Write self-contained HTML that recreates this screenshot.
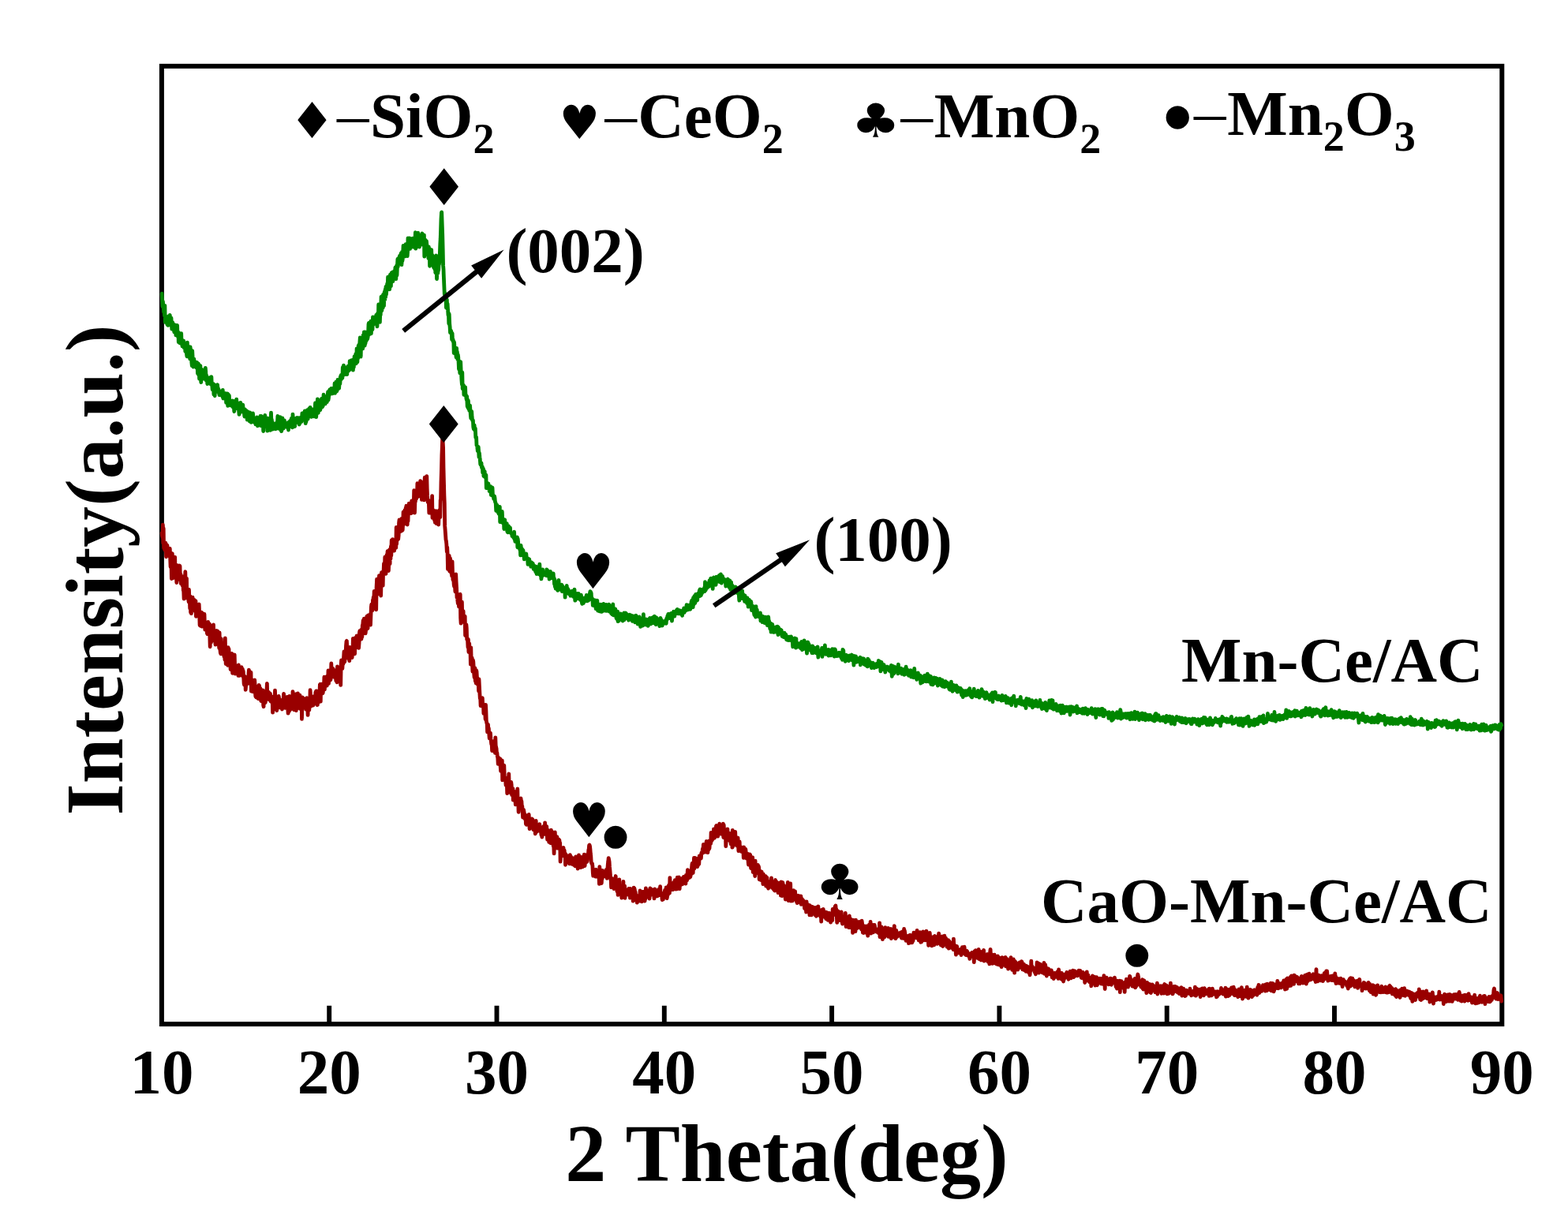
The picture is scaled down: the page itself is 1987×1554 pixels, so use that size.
<!DOCTYPE html>
<html lang="en">
<head>
<meta charset="utf-8">
<title>XRD patterns</title>
<style>
html,body{margin:0;padding:0;background:#fff;}
body{width:1987px;height:1554px;overflow:hidden;}
svg{display:block;}
text{font-family:"Liberation Serif",serif;font-weight:bold;fill:#000;}
text.sym{font-family:"DejaVu Sans","Liberation Serif",sans-serif;font-weight:normal;}
text.dash{font-weight:normal;}
</style>
</head>
<body>
<svg width="1987" height="1554" viewBox="0 0 1987 1554">
<rect width="1987" height="1554" fill="#fff"/>
<rect x="204.9" y="83.85" width="1698.40" height="1214.20" fill="none" stroke="#000" stroke-width="6.0"/>
<path d="M417.2,1298.05 V1274.8 M629.5,1298.05 V1274.8 M841.8,1298.05 V1274.8 M1054.1,1298.05 V1274.8 M1266.4,1298.05 V1274.8 M1478.7,1298.05 V1274.8 M1691.0,1298.05 V1274.8" stroke="#000" stroke-width="5.9" fill="none"/>
<g fill="none" stroke-linejoin="round" stroke-linecap="round" stroke-width="4.8">
<path stroke="#008600" d="M205.1,372.2 L205.5,379.5 L205.9,388.5 L206.4,382.1 L206.8,386.2 L207.2,387.4 L207.6,395.7 L208.1,394.0 L208.5,400.3 L208.9,387.3 L209.3,408.4 L209.8,400.5 L210.2,406.4 L210.6,403.1 L211.0,402.9 L211.5,408.7 L211.9,411.5 L212.3,406.3 L212.7,407.1 L213.2,412.4 L213.6,404.0 L214.0,400.7 L214.4,411.9 L214.9,406.2 L215.3,399.4 L215.7,406.0 L216.1,408.2 L216.6,404.4 L217.0,403.0 L217.4,411.9 L217.8,417.1 L218.3,411.0 L218.7,408.5 L219.1,415.2 L219.5,417.5 L220.0,412.3 L220.4,417.5 L220.8,420.9 L221.2,414.5 L221.7,411.8 L222.1,419.1 L222.5,419.3 L222.9,424.9 L223.3,412.3 L223.8,416.7 L224.2,416.6 L224.6,412.4 L225.0,423.8 L225.5,427.0 L225.9,420.8 L226.3,433.6 L226.7,431.4 L227.2,431.2 L227.6,430.8 L228.0,434.8 L228.4,422.8 L228.9,434.5 L229.3,435.2 L229.7,422.7 L230.1,435.1 L230.6,432.5 L231.0,438.8 L231.4,432.7 L231.8,435.6 L232.3,438.1 L232.7,432.0 L233.1,440.7 L233.5,437.3 L234.0,441.1 L234.4,436.1 L234.8,445.4 L235.2,443.3 L235.7,439.5 L236.1,444.5 L236.5,448.4 L236.9,451.8 L237.4,434.1 L237.8,448.0 L238.2,446.3 L238.6,443.9 L239.1,439.6 L239.5,452.4 L239.9,439.6 L240.3,450.1 L240.7,454.8 L241.2,440.0 L241.6,447.8 L242.0,443.3 L242.4,452.4 L242.9,460.1 L243.3,463.7 L243.7,444.6 L244.1,451.9 L244.6,459.5 L245.0,465.1 L245.4,460.0 L245.8,454.8 L246.3,461.2 L246.7,460.5 L247.1,460.4 L247.5,458.5 L248.0,465.1 L248.4,465.5 L248.8,464.2 L249.2,464.2 L249.7,459.5 L250.1,464.1 L250.5,473.3 L250.9,466.7 L251.4,460.9 L251.8,475.4 L252.2,471.8 L252.6,480.2 L253.1,470.3 L253.5,468.1 L253.9,463.6 L254.3,477.9 L254.8,484.5 L255.2,467.9 L255.6,469.1 L256.0,475.7 L256.5,469.0 L256.9,472.2 L257.3,472.2 L257.7,475.2 L258.1,480.1 L258.6,475.2 L259.0,480.1 L259.4,473.9 L259.8,478.0 L260.3,466.3 L260.7,470.2 L261.1,481.8 L261.5,475.5 L262.0,481.7 L262.4,482.1 L262.8,486.5 L263.2,484.5 L263.7,486.1 L264.1,481.2 L264.5,478.9 L264.9,479.3 L265.4,481.1 L265.8,478.6 L266.2,482.0 L266.6,484.8 L267.1,487.0 L267.5,484.7 L267.9,477.7 L268.3,487.1 L268.8,489.1 L269.2,493.7 L269.6,491.8 L270.0,486.4 L270.5,486.5 L270.9,500.0 L271.3,494.4 L271.7,499.9 L272.2,501.7 L272.6,488.2 L273.0,494.3 L273.4,495.0 L273.9,495.9 L274.3,496.2 L274.7,494.9 L275.1,495.2 L275.6,487.6 L276.0,494.3 L276.4,491.9 L276.8,496.4 L277.2,493.9 L277.7,499.4 L278.1,500.7 L278.5,498.6 L278.9,499.0 L279.4,498.4 L279.8,496.2 L280.2,497.9 L280.6,496.7 L281.1,501.2 L281.5,499.9 L281.9,502.9 L282.3,494.4 L282.8,505.0 L283.2,497.8 L283.6,498.3 L284.0,501.2 L284.5,499.9 L284.9,504.2 L285.3,500.6 L285.7,498.7 L286.2,500.1 L286.6,510.4 L287.0,505.0 L287.4,499.8 L287.9,505.6 L288.3,498.9 L288.7,514.4 L289.1,499.8 L289.6,509.2 L290.0,509.9 L290.4,501.3 L290.8,509.6 L291.3,513.1 L291.7,511.1 L292.1,510.6 L292.5,514.1 L293.0,511.0 L293.4,512.2 L293.8,510.5 L294.2,514.3 L294.6,507.8 L295.1,515.9 L295.5,510.5 L295.9,508.4 L296.3,515.2 L296.8,521.5 L297.2,518.6 L297.6,512.5 L298.0,518.2 L298.5,513.5 L298.9,515.3 L299.3,516.5 L299.7,506.2 L300.2,517.5 L300.6,512.4 L301.0,514.1 L301.4,510.9 L301.9,510.9 L302.3,513.6 L302.7,521.5 L303.1,525.4 L303.6,518.1 L304.0,523.2 L304.4,517.4 L304.8,510.3 L305.3,519.5 L305.7,520.9 L306.1,517.2 L306.5,520.5 L307.0,521.8 L307.4,515.7 L307.8,513.2 L308.2,518.8 L308.7,519.0 L309.1,518.6 L309.5,524.6 L309.9,528.0 L310.4,518.9 L310.8,524.0 L311.2,525.3 L311.6,524.7 L312.0,526.5 L312.5,520.7 L312.9,526.1 L313.3,532.1 L313.7,527.4 L314.2,521.9 L314.6,527.7 L315.0,531.1 L315.4,527.9 L315.9,524.5 L316.3,534.0 L316.7,522.8 L317.1,530.8 L317.6,529.1 L318.0,524.7 L318.4,535.3 L318.8,532.1 L319.3,526.2 L319.7,533.9 L320.1,529.9 L320.5,523.9 L321.0,529.2 L321.4,533.3 L321.8,535.0 L322.2,533.2 L322.7,532.8 L323.1,534.7 L323.5,532.0 L323.9,537.9 L324.4,533.7 L324.8,534.4 L325.2,535.5 L325.6,528.9 L326.1,530.5 L326.5,539.9 L326.9,535.0 L327.3,532.5 L327.8,535.2 L328.2,531.8 L328.6,535.0 L329.0,531.1 L329.4,535.1 L329.9,527.4 L330.3,539.5 L330.7,531.9 L331.1,527.4 L331.6,533.1 L332.0,532.5 L332.4,534.6 L332.8,529.2 L333.3,535.7 L333.7,546.5 L334.1,528.7 L334.5,535.4 L335.0,532.7 L335.4,534.8 L335.8,526.4 L336.2,529.2 L336.7,535.9 L337.1,533.8 L337.5,540.8 L337.9,531.1 L338.4,534.7 L338.8,546.2 L339.2,530.8 L339.6,530.2 L340.1,533.9 L340.5,533.8 L340.9,537.5 L341.3,534.6 L341.8,530.9 L342.2,535.1 L342.6,545.4 L343.0,539.8 L343.5,523.1 L343.9,534.4 L344.3,531.6 L344.7,538.2 L345.2,535.1 L345.6,544.2 L346.0,540.4 L346.4,540.5 L346.8,537.9 L347.3,537.3 L347.7,539.1 L348.1,543.4 L348.5,540.5 L349.0,537.0 L349.4,543.9 L349.8,539.6 L350.2,538.6 L350.7,535.7 L351.1,536.7 L351.5,536.4 L351.9,527.4 L352.4,543.2 L352.8,541.3 L353.2,538.1 L353.6,543.3 L354.1,540.8 L354.5,540.5 L354.9,528.7 L355.3,538.0 L355.8,541.2 L356.2,545.7 L356.6,546.6 L357.0,544.9 L357.5,534.2 L357.9,529.9 L358.3,541.4 L358.7,539.1 L359.2,543.0 L359.6,538.5 L360.0,539.9 L360.4,532.8 L360.9,540.9 L361.3,537.1 L361.7,540.4 L362.1,540.8 L362.6,538.3 L363.0,540.0 L363.4,538.5 L363.8,541.6 L364.2,540.4 L364.7,535.8 L365.1,535.5 L365.5,545.0 L365.9,537.1 L366.4,541.4 L366.8,538.7 L367.2,534.5 L367.6,533.5 L368.1,536.9 L368.5,537.3 L368.9,538.5 L369.3,530.5 L369.8,533.1 L370.2,535.0 L370.6,541.8 L371.0,525.1 L371.5,536.6 L371.9,532.4 L372.3,536.3 L372.7,532.3 L373.2,535.7 L373.6,540.5 L374.0,535.3 L374.4,535.5 L374.9,535.1 L375.3,530.2 L375.7,535.5 L376.1,532.2 L376.6,529.5 L377.0,532.6 L377.4,531.6 L377.8,535.5 L378.3,532.0 L378.7,529.8 L379.1,538.0 L379.5,535.8 L380.0,536.8 L380.4,533.8 L380.8,530.6 L381.2,529.1 L381.7,529.5 L382.1,534.4 L382.5,530.7 L382.9,523.8 L383.3,529.6 L383.8,523.6 L384.2,530.0 L384.6,524.0 L385.0,523.5 L385.5,529.0 L385.9,527.9 L386.3,521.0 L386.7,530.9 L387.2,536.6 L387.6,520.9 L388.0,534.7 L388.4,523.7 L388.9,524.3 L389.3,525.3 L389.7,519.7 L390.1,531.1 L390.6,527.4 L391.0,521.8 L391.4,523.5 L391.8,518.0 L392.3,522.7 L392.7,527.9 L393.1,516.3 L393.5,521.5 L394.0,523.7 L394.4,527.3 L394.8,528.3 L395.2,520.3 L395.7,518.7 L396.1,523.6 L396.5,519.8 L396.9,519.7 L397.4,525.4 L397.8,527.8 L398.2,521.3 L398.6,519.0 L399.1,522.0 L399.5,511.0 L399.9,518.8 L400.3,513.9 L400.7,528.6 L401.2,521.0 L401.6,518.1 L402.0,516.3 L402.4,505.8 L402.9,519.6 L403.3,523.3 L403.7,512.5 L404.1,518.4 L404.6,518.2 L405.0,507.8 L405.4,518.3 L405.8,519.8 L406.3,514.4 L406.7,512.7 L407.1,516.1 L407.5,505.3 L408.0,512.2 L408.4,516.0 L408.8,505.4 L409.2,514.9 L409.7,508.1 L410.1,500.2 L410.5,508.6 L410.9,504.3 L411.4,509.6 L411.8,502.4 L412.2,511.9 L412.6,503.3 L413.1,507.7 L413.5,502.8 L413.9,503.4 L414.3,509.7 L414.8,504.6 L415.2,501.1 L415.6,496.6 L416.0,507.0 L416.5,504.4 L416.9,498.8 L417.3,500.8 L417.7,494.3 L418.1,493.7 L418.6,493.9 L419.0,498.8 L419.4,497.9 L419.8,492.5 L420.3,498.9 L420.7,498.6 L421.1,495.2 L421.5,498.8 L422.0,492.2 L422.4,492.6 L422.8,495.0 L423.2,492.3 L423.7,495.9 L424.1,485.9 L424.5,498.3 L424.9,487.5 L425.4,490.2 L425.8,484.1 L426.2,493.2 L426.6,496.1 L427.1,494.8 L427.5,493.3 L427.9,481.5 L428.3,484.8 L428.8,485.8 L429.2,483.1 L429.6,492.4 L430.0,487.2 L430.5,485.2 L430.9,486.5 L431.3,478.1 L431.7,476.9 L432.2,475.4 L432.6,480.6 L433.0,478.3 L433.4,478.0 L433.9,479.1 L434.3,465.7 L434.7,468.6 L435.1,471.3 L435.5,463.2 L436.0,467.0 L436.4,474.5 L436.8,474.7 L437.2,474.4 L437.7,469.0 L438.1,467.5 L438.5,473.9 L438.9,466.4 L439.4,469.9 L439.8,474.7 L440.2,465.9 L440.6,464.5 L441.1,467.3 L441.5,470.2 L441.9,469.3 L442.3,467.3 L442.8,469.0 L443.2,457.6 L443.6,460.9 L444.0,465.7 L444.5,459.6 L444.9,457.0 L445.3,457.2 L445.7,458.1 L446.2,461.3 L446.6,456.3 L447.0,462.2 L447.4,469.1 L447.9,458.9 L448.3,465.6 L448.7,459.8 L449.1,451.8 L449.6,455.6 L450.0,451.1 L450.4,459.5 L450.8,448.7 L451.3,460.9 L451.7,456.3 L452.1,441.8 L452.5,455.8 L452.9,459.0 L453.4,445.6 L453.8,454.0 L454.2,438.1 L454.6,448.0 L455.1,436.6 L455.5,447.0 L455.9,433.6 L456.3,427.8 L456.8,443.0 L457.2,452.2 L457.6,435.2 L458.0,441.9 L458.5,436.8 L458.9,433.2 L459.3,437.3 L459.7,441.9 L460.2,424.8 L460.6,433.8 L461.0,431.6 L461.4,420.8 L461.9,436.9 L462.3,438.0 L462.7,420.9 L463.1,435.2 L463.6,425.0 L464.0,423.0 L464.4,431.6 L464.8,423.7 L465.3,423.5 L465.7,429.6 L466.1,427.6 L466.5,424.7 L467.0,411.1 L467.4,409.4 L467.8,424.0 L468.2,411.7 L468.7,417.1 L469.1,409.6 L469.5,413.9 L469.9,407.1 L470.4,422.8 L470.8,407.1 L471.2,411.5 L471.6,410.4 L472.0,417.6 L472.5,402.0 L472.9,409.1 L473.3,407.4 L473.7,410.9 L474.2,409.9 L474.6,403.9 L475.0,407.2 L475.4,403.0 L475.9,407.1 L476.3,403.2 L476.7,399.4 L477.1,402.2 L477.6,403.7 L478.0,413.8 L478.4,397.4 L478.8,401.2 L479.3,407.0 L479.7,386.0 L480.1,387.1 L480.5,389.4 L481.0,394.6 L481.4,408.3 L481.8,395.7 L482.2,399.4 L482.7,390.1 L483.1,376.1 L483.5,375.8 L483.9,393.6 L484.4,387.5 L484.8,377.6 L485.2,390.1 L485.6,373.4 L486.1,387.3 L486.5,387.6 L486.9,373.3 L487.3,369.8 L487.8,379.6 L488.2,366.9 L488.6,376.7 L489.0,363.3 L489.4,373.5 L489.9,367.9 L490.3,363.5 L490.7,359.4 L491.1,364.8 L491.6,351.1 L492.0,359.4 L492.4,357.6 L492.8,362.8 L493.3,350.5 L493.7,366.8 L494.1,354.0 L494.5,348.1 L495.0,361.9 L495.4,362.6 L495.8,350.8 L496.2,345.8 L496.7,350.2 L497.1,345.2 L497.5,346.5 L497.9,356.6 L498.4,348.8 L498.8,346.5 L499.2,346.8 L499.6,343.6 L500.1,348.0 L500.5,347.3 L500.9,339.1 L501.3,341.0 L501.8,353.7 L502.2,341.1 L502.6,336.6 L503.0,348.9 L503.5,335.9 L503.9,328.4 L504.3,337.9 L504.7,327.6 L505.2,329.0 L505.6,332.9 L506.0,329.3 L506.4,324.5 L506.8,324.8 L507.3,323.7 L507.7,333.2 L508.1,321.1 L508.5,321.1 L509.0,335.7 L509.4,319.5 L509.8,330.9 L510.2,329.1 L510.7,319.6 L511.1,311.4 L511.5,321.9 L511.9,322.6 L512.4,323.8 L512.8,317.9 L513.2,324.1 L513.6,324.7 L514.1,309.6 L514.5,323.9 L514.9,315.9 L515.3,311.0 L515.8,312.0 L516.2,324.7 L516.6,318.9 L517.0,301.9 L517.5,312.7 L517.9,310.9 L518.3,310.3 L518.7,307.9 L519.2,301.9 L519.6,315.4 L520.0,304.3 L520.4,307.4 L520.9,305.7 L521.3,304.6 L521.7,313.1 L522.1,310.7 L522.6,304.1 L523.0,302.2 L523.4,304.7 L523.8,313.1 L524.2,307.7 L524.7,308.1 L525.1,304.4 L525.5,304.6 L525.9,307.2 L526.4,294.6 L526.8,315.1 L527.2,300.5 L527.6,301.6 L528.1,312.9 L528.5,306.1 L528.9,304.9 L529.3,301.0 L529.8,295.1 L530.2,305.6 L530.6,311.7 L531.0,299.2 L531.5,313.0 L531.9,298.2 L532.3,300.8 L532.7,308.5 L533.2,305.7 L533.6,310.2 L534.0,301.9 L534.4,300.6 L534.9,296.0 L535.3,300.4 L535.7,301.6 L536.1,299.9 L536.6,310.7 L537.0,305.4 L537.4,297.9 L537.8,325.2 L538.3,305.8 L538.7,303.8 L539.1,319.4 L539.5,319.7 L540.0,306.6 L540.4,305.5 L540.8,309.2 L541.2,322.9 L541.6,315.3 L542.1,313.3 L542.5,319.0 L542.9,327.4 L543.3,313.0 L543.8,320.0 L544.2,315.1 L544.6,337.3 L545.0,336.2 L545.5,332.0 L545.9,326.5 L546.3,332.1 L546.7,316.6 L547.2,331.6 L547.6,322.9 L548.0,323.8 L548.4,328.3 L548.9,331.3 L549.3,337.5 L549.7,339.1 L550.1,337.3 L550.6,331.0 L551.0,341.3 L551.4,337.3 L551.8,345.7 L552.3,334.1 L552.7,323.9 L553.1,337.8 L553.5,353.5 L554.0,344.0 L554.4,340.3 L554.8,346.3 L555.2,343.5 L555.7,342.0 L556.1,334.7 L556.5,334.8 L556.9,330.8 L557.4,320.2 L557.8,309.3 L558.2,302.5 L558.6,291.1 L559.0,277.3 L559.5,269.5 L559.7,269.0 L560.3,286.0 L560.7,296.9 L561.2,316.8 L561.6,336.4 L562.0,341.1 L562.4,351.9 L562.9,363.6 L563.3,373.2 L563.7,370.9 L564.1,375.5 L564.6,377.7 L565.0,373.8 L565.4,390.0 L565.8,385.2 L566.3,379.7 L566.7,391.3 L567.1,384.9 L567.5,391.5 L568.0,399.7 L568.4,396.7 L568.8,410.3 L569.2,398.2 L569.7,410.3 L570.1,414.2 L570.5,421.5 L570.9,420.7 L571.4,419.0 L571.8,420.3 L572.2,421.6 L572.6,430.4 L573.1,422.4 L573.5,431.0 L573.9,429.5 L574.3,433.3 L574.8,432.4 L575.2,447.5 L575.6,433.9 L576.0,440.6 L576.5,442.5 L576.9,446.0 L577.3,446.8 L577.7,448.3 L578.1,452.9 L578.6,441.3 L579.0,451.0 L579.4,446.0 L579.8,455.4 L580.3,449.6 L580.7,452.4 L581.1,458.7 L581.5,467.9 L582.0,465.4 L582.4,465.6 L582.8,472.9 L583.2,462.7 L583.7,458.7 L584.1,468.9 L584.5,471.5 L584.9,480.9 L585.4,487.3 L585.8,472.1 L586.2,492.8 L586.6,490.3 L587.1,488.7 L587.5,488.5 L587.9,500.4 L588.3,491.2 L588.8,490.7 L589.2,495.6 L589.6,490.7 L590.0,501.3 L590.5,500.7 L590.9,504.7 L591.3,506.8 L591.7,502.4 L592.2,515.1 L592.6,506.5 L593.0,516.9 L593.4,507.8 L593.9,518.2 L594.3,514.8 L594.7,520.2 L595.1,518.9 L595.5,513.8 L596.0,520.0 L596.4,526.5 L596.8,530.3 L597.2,522.9 L597.7,521.6 L598.1,528.3 L598.5,532.5 L598.9,532.2 L599.4,532.9 L599.8,541.4 L600.2,543.4 L600.6,544.2 L601.1,539.0 L601.5,545.0 L601.9,545.8 L602.3,542.9 L602.8,554.7 L603.2,553.9 L603.6,554.2 L604.0,564.6 L604.5,564.6 L604.9,567.6 L605.3,571.5 L605.7,572.0 L606.2,566.4 L606.6,571.9 L607.0,579.3 L607.4,574.2 L607.9,579.2 L608.3,582.4 L608.7,588.2 L609.1,589.3 L609.6,589.4 L610.0,586.9 L610.4,592.7 L610.8,592.8 L611.3,591.7 L611.7,599.1 L612.1,597.3 L612.5,594.1 L612.9,603.4 L613.4,599.2 L613.8,603.9 L614.2,597.5 L614.6,604.7 L615.1,602.8 L615.5,604.2 L615.9,602.1 L616.3,618.7 L616.8,611.5 L617.2,614.2 L617.6,618.7 L618.0,615.3 L618.5,618.8 L618.9,612.9 L619.3,619.6 L619.7,618.3 L620.2,622.6 L620.6,622.2 L621.0,617.3 L621.4,616.4 L621.9,620.2 L622.3,627.4 L622.7,627.0 L623.1,627.7 L623.6,619.6 L624.0,618.0 L624.4,626.3 L624.8,628.2 L625.3,628.1 L625.7,632.4 L626.1,631.5 L626.5,628.8 L627.0,631.0 L627.4,635.9 L627.8,636.9 L628.2,637.7 L628.7,647.4 L629.1,639.8 L629.5,642.6 L629.9,640.1 L630.3,643.7 L630.8,648.2 L631.2,649.6 L631.6,648.3 L632.0,651.3 L632.5,651.1 L632.9,645.3 L633.3,642.3 L633.7,661.7 L634.2,657.3 L634.6,655.0 L635.0,650.0 L635.4,652.3 L635.9,662.2 L636.3,648.5 L636.7,657.8 L637.1,662.6 L637.6,660.7 L638.0,663.5 L638.4,661.1 L638.8,670.5 L639.3,659.3 L639.7,658.8 L640.1,665.2 L640.5,669.8 L641.0,665.4 L641.4,669.9 L641.8,665.1 L642.2,663.5 L642.7,673.0 L643.1,674.3 L643.5,674.8 L643.9,668.6 L644.4,666.8 L644.8,667.4 L645.2,671.2 L645.6,674.6 L646.1,675.0 L646.5,669.0 L646.9,675.2 L647.3,675.2 L647.7,676.0 L648.2,676.3 L648.6,676.3 L649.0,679.7 L649.4,678.7 L649.9,679.6 L650.3,677.1 L650.7,681.4 L651.1,680.3 L651.6,674.1 L652.0,683.6 L652.4,681.6 L652.8,686.3 L653.3,683.2 L653.7,684.1 L654.1,685.7 L654.5,685.6 L655.0,684.8 L655.4,680.9 L655.8,693.8 L656.2,682.9 L656.7,687.8 L657.1,691.8 L657.5,691.6 L657.9,693.0 L658.4,694.4 L658.8,696.8 L659.2,694.3 L659.6,703.8 L660.1,691.4 L660.5,696.4 L660.9,695.2 L661.3,695.3 L661.8,698.9 L662.2,703.6 L662.6,697.1 L663.0,697.8 L663.5,703.3 L663.9,703.5 L664.3,708.9 L664.7,706.5 L665.1,704.5 L665.6,703.3 L666.0,705.8 L666.4,705.2 L666.8,701.9 L667.3,707.1 L667.7,707.2 L668.1,707.6 L668.5,707.6 L669.0,715.3 L669.4,712.7 L669.8,714.1 L670.2,709.6 L670.7,708.8 L671.1,711.8 L671.5,714.2 L671.9,712.8 L672.4,713.8 L672.8,718.2 L673.2,716.5 L673.6,712.8 L674.1,715.2 L674.5,714.9 L674.9,718.2 L675.3,714.3 L675.8,718.0 L676.2,721.4 L676.6,719.7 L677.0,717.1 L677.5,718.5 L677.9,721.4 L678.3,723.0 L678.7,724.6 L679.2,721.7 L679.6,718.2 L680.0,727.5 L680.4,724.1 L680.9,724.8 L681.3,724.7 L681.7,720.5 L682.1,723.1 L682.6,725.2 L683.0,727.9 L683.4,724.9 L683.8,715.1 L684.2,724.3 L684.7,726.4 L685.1,729.7 L685.5,727.9 L685.9,733.9 L686.4,730.6 L686.8,730.5 L687.2,729.3 L687.6,721.9 L688.1,729.3 L688.5,728.6 L688.9,725.1 L689.3,728.9 L689.8,728.4 L690.2,725.7 L690.6,727.0 L691.0,726.7 L691.5,728.4 L691.9,726.4 L692.3,729.7 L692.7,721.8 L693.2,727.2 L693.6,722.7 L694.0,726.7 L694.4,730.1 L694.9,728.6 L695.3,728.3 L695.7,729.0 L696.1,734.0 L696.6,725.4 L697.0,732.0 L697.4,724.3 L697.8,727.9 L698.3,730.2 L698.7,727.1 L699.1,730.7 L699.5,732.8 L700.0,727.1 L700.4,731.4 L700.8,731.2 L701.2,727.0 L701.6,733.6 L702.1,732.6 L702.5,740.5 L702.9,734.4 L703.3,743.6 L703.8,737.3 L704.2,746.1 L704.6,742.2 L705.0,742.5 L705.5,744.1 L705.9,744.9 L706.3,746.9 L706.7,748.4 L707.2,742.1 L707.6,739.6 L708.0,735.4 L708.4,743.1 L708.9,747.2 L709.3,746.3 L709.7,745.8 L710.1,744.6 L710.6,743.9 L711.0,745.4 L711.4,747.8 L711.8,741.2 L712.3,749.5 L712.7,742.7 L713.1,747.2 L713.5,745.9 L714.0,747.0 L714.4,745.1 L714.8,745.0 L715.2,748.1 L715.7,745.6 L716.1,757.2 L716.5,748.2 L716.9,747.6 L717.4,748.2 L717.8,746.7 L718.2,742.5 L718.6,749.7 L719.0,751.7 L719.5,746.1 L719.9,751.1 L720.3,747.4 L720.7,751.3 L721.2,752.8 L721.6,753.4 L722.0,753.4 L722.4,749.9 L722.9,755.2 L723.3,751.1 L723.7,753.8 L724.1,755.1 L724.6,752.1 L725.0,749.1 L725.4,755.3 L725.8,750.0 L726.3,750.8 L726.7,750.3 L727.1,756.7 L727.5,753.6 L728.0,747.2 L728.4,756.8 L728.8,761.2 L729.2,760.5 L729.7,753.2 L730.1,755.4 L730.5,757.0 L730.9,758.4 L731.4,755.8 L731.8,752.5 L732.2,758.5 L732.6,758.3 L733.1,752.4 L733.5,755.6 L733.9,757.9 L734.3,757.2 L734.8,759.1 L735.2,760.2 L735.6,759.7 L736.0,757.8 L736.4,754.1 L736.9,760.6 L737.3,763.3 L737.7,765.3 L738.1,759.1 L738.6,759.3 L739.0,764.2 L739.4,764.3 L739.8,761.0 L740.3,762.3 L740.7,757.9 L741.1,762.2 L741.5,757.9 L742.0,760.2 L742.4,760.4 L742.8,759.4 L743.2,754.4 L743.7,758.4 L744.1,761.8 L744.5,760.5 L744.9,759.3 L745.4,761.2 L745.8,761.1 L746.2,760.2 L746.6,754.8 L747.1,754.6 L747.5,751.8 L747.9,749.6 L748.3,750.0 L748.8,750.9 L749.2,751.9 L749.6,759.6 L750.0,757.7 L750.5,759.1 L750.9,759.9 L751.3,767.3 L751.7,760.0 L752.2,762.8 L752.6,761.4 L753.0,763.8 L753.4,764.4 L753.8,768.3 L754.3,761.0 L754.7,765.9 L755.1,771.7 L755.5,765.7 L756.0,767.4 L756.4,765.9 L756.8,761.1 L757.2,769.6 L757.7,774.2 L758.1,769.5 L758.5,765.6 L758.9,772.4 L759.4,772.0 L759.8,774.9 L760.2,774.6 L760.6,770.9 L761.1,773.0 L761.5,766.2 L761.9,775.3 L762.3,772.4 L762.8,775.2 L763.2,775.1 L763.6,770.9 L764.0,771.4 L764.5,769.1 L764.9,765.4 L765.3,771.4 L765.7,772.3 L766.2,768.5 L766.6,774.1 L767.0,772.2 L767.4,773.3 L767.9,769.5 L768.3,766.4 L768.7,774.3 L769.1,773.8 L769.6,771.6 L770.0,770.7 L770.4,771.2 L770.8,771.7 L771.2,770.7 L771.7,766.2 L772.1,775.1 L772.5,768.1 L772.9,772.0 L773.4,772.3 L773.8,774.3 L774.2,768.7 L774.6,777.7 L775.1,776.3 L775.5,776.9 L775.9,778.7 L776.3,772.6 L776.8,766.0 L777.2,776.6 L777.6,779.9 L778.0,779.7 L778.5,774.8 L778.9,776.5 L779.3,778.0 L779.7,771.9 L780.2,775.9 L780.6,776.4 L781.0,783.7 L781.4,777.2 L781.9,784.5 L782.3,780.1 L782.7,775.2 L783.1,787.6 L783.6,778.0 L784.0,783.2 L784.4,786.8 L784.8,780.0 L785.3,778.0 L785.7,785.0 L786.1,782.0 L786.5,778.0 L787.0,778.5 L787.4,780.7 L787.8,784.8 L788.2,781.0 L788.7,783.9 L789.1,787.0 L789.5,785.8 L789.9,786.3 L790.3,785.7 L790.8,776.9 L791.2,785.7 L791.6,782.9 L792.0,781.5 L792.5,778.6 L792.9,777.0 L793.3,778.5 L793.7,781.9 L794.2,778.3 L794.6,779.4 L795.0,780.1 L795.4,784.1 L795.9,781.1 L796.3,781.6 L796.7,786.2 L797.1,781.2 L797.6,784.2 L798.0,779.2 L798.4,783.7 L798.8,783.2 L799.3,783.6 L799.7,781.8 L800.1,780.2 L800.5,782.7 L801.0,782.4 L801.4,787.3 L801.8,787.1 L802.2,780.8 L802.7,786.7 L803.1,783.5 L803.5,786.5 L803.9,783.8 L804.4,781.0 L804.8,788.8 L805.2,787.2 L805.6,782.1 L806.1,780.2 L806.5,784.4 L806.9,782.6 L807.3,785.2 L807.7,788.3 L808.2,791.0 L808.6,785.5 L809.0,790.9 L809.4,790.4 L809.9,785.5 L810.3,781.8 L810.7,789.7 L811.1,789.0 L811.6,794.4 L812.0,791.7 L812.4,789.8 L812.8,792.6 L813.3,784.3 L813.7,788.2 L814.1,786.8 L814.5,793.0 L815.0,789.5 L815.4,778.6 L815.8,792.0 L816.2,785.1 L816.7,790.3 L817.1,786.4 L817.5,788.7 L817.9,789.9 L818.4,788.5 L818.8,785.0 L819.2,792.2 L819.6,789.0 L820.1,787.7 L820.5,789.9 L820.9,786.0 L821.3,793.3 L821.8,788.2 L822.2,788.5 L822.6,788.4 L823.0,784.4 L823.5,783.5 L823.9,787.7 L824.3,788.0 L824.7,790.9 L825.1,788.1 L825.6,783.3 L826.0,788.1 L826.4,789.0 L826.8,789.4 L827.3,787.3 L827.7,782.5 L828.1,789.7 L828.5,783.9 L829.0,787.9 L829.4,781.2 L829.8,788.4 L830.2,783.7 L830.7,789.5 L831.1,791.6 L831.5,789.9 L831.9,782.9 L832.4,783.7 L832.8,784.2 L833.2,789.1 L833.6,788.3 L834.1,788.0 L834.5,788.7 L834.9,789.8 L835.3,790.2 L835.8,793.6 L836.2,788.5 L836.6,789.5 L837.0,783.5 L837.5,785.3 L837.9,787.4 L838.3,786.0 L838.7,790.4 L839.2,793.0 L839.6,788.6 L840.0,788.4 L840.4,788.3 L840.9,790.0 L841.3,787.6 L841.7,790.2 L842.1,789.3 L842.5,788.8 L843.0,789.4 L843.4,786.5 L843.8,786.1 L844.2,790.3 L844.7,784.0 L845.1,785.9 L845.5,782.9 L845.9,780.6 L846.4,780.1 L846.8,778.4 L847.2,780.5 L847.6,778.3 L848.1,778.7 L848.5,783.6 L848.9,779.3 L849.3,783.1 L849.8,780.3 L850.2,782.0 L850.6,777.3 L851.0,779.6 L851.5,787.2 L851.9,781.5 L852.3,782.0 L852.7,779.5 L853.2,781.4 L853.6,775.1 L854.0,776.0 L854.4,779.9 L854.9,781.0 L855.3,777.1 L855.7,777.7 L856.1,777.1 L856.6,777.6 L857.0,774.3 L857.4,773.5 L857.8,777.6 L858.3,772.3 L858.7,774.5 L859.1,775.4 L859.5,774.0 L859.9,777.9 L860.4,775.7 L860.8,776.6 L861.2,773.6 L861.6,774.3 L862.1,778.0 L862.5,777.4 L862.9,774.7 L863.3,777.1 L863.8,776.4 L864.2,776.1 L864.6,780.4 L865.0,774.0 L865.5,776.3 L865.9,776.1 L866.3,773.9 L866.7,770.8 L867.2,776.3 L867.6,774.7 L868.0,773.8 L868.4,773.5 L868.9,773.2 L869.3,770.1 L869.7,773.5 L870.1,766.6 L870.6,771.8 L871.0,766.8 L871.4,770.0 L871.8,772.9 L872.3,769.5 L872.7,768.3 L873.1,771.0 L873.5,768.1 L874.0,767.2 L874.4,766.8 L874.8,772.3 L875.2,769.1 L875.7,768.1 L876.1,762.3 L876.5,767.5 L876.9,761.0 L877.3,766.1 L877.8,760.5 L878.2,769.7 L878.6,757.7 L879.0,766.3 L879.5,764.4 L879.9,755.6 L880.3,759.8 L880.7,764.5 L881.2,762.8 L881.6,753.3 L882.0,756.2 L882.4,753.4 L882.9,753.2 L883.3,753.7 L883.7,760.9 L884.1,754.8 L884.6,753.0 L885.0,752.1 L885.4,754.7 L885.8,754.2 L886.3,748.5 L886.7,755.6 L887.1,747.0 L887.5,749.1 L888.0,750.9 L888.4,754.5 L888.8,747.5 L889.2,749.0 L889.7,751.9 L890.1,749.3 L890.5,750.5 L890.9,749.8 L891.4,746.9 L891.8,747.7 L892.2,748.2 L892.6,744.8 L893.1,749.6 L893.5,737.7 L893.9,740.8 L894.3,748.0 L894.8,744.4 L895.2,740.6 L895.6,743.5 L896.0,745.4 L896.4,739.7 L896.9,743.6 L897.3,740.4 L897.7,740.1 L898.1,739.9 L898.6,743.3 L899.0,735.8 L899.4,737.9 L899.8,740.9 L900.3,734.6 L900.7,733.1 L901.1,739.8 L901.5,737.7 L902.0,737.0 L902.4,737.8 L902.8,734.0 L903.2,746.3 L903.7,733.6 L904.1,735.2 L904.5,731.8 L904.9,734.9 L905.4,741.0 L905.8,735.9 L906.2,737.6 L906.6,734.0 L907.1,741.3 L907.5,735.8 L907.9,731.1 L908.3,737.5 L908.8,733.7 L909.2,736.7 L909.6,735.1 L910.0,735.4 L910.5,734.9 L910.9,731.5 L911.3,729.5 L911.7,737.5 L912.2,733.9 L912.6,735.2 L913.0,732.8 L913.4,727.8 L913.8,730.3 L914.3,739.1 L914.7,732.1 L915.1,733.6 L915.5,730.3 L916.0,733.5 L916.4,734.2 L916.8,734.9 L917.2,735.6 L917.7,734.1 L918.1,734.5 L918.5,736.6 L918.9,738.0 L919.4,736.7 L919.8,743.1 L920.2,738.4 L920.6,738.6 L921.1,736.2 L921.5,741.9 L921.9,735.6 L922.3,734.0 L922.8,736.3 L923.2,741.7 L923.6,736.3 L924.0,744.5 L924.5,740.5 L924.9,736.0 L925.3,740.5 L925.7,747.3 L926.2,739.1 L926.6,738.0 L927.0,744.2 L927.4,747.1 L927.9,746.5 L928.3,742.5 L928.7,744.5 L929.1,745.3 L929.6,748.4 L930.0,751.9 L930.4,745.1 L930.8,750.0 L931.2,745.1 L931.7,748.4 L932.1,743.9 L932.5,744.9 L932.9,749.0 L933.4,745.2 L933.8,751.3 L934.2,747.1 L934.6,749.5 L935.1,749.4 L935.5,749.0 L935.9,750.9 L936.3,754.3 L936.8,761.1 L937.2,747.9 L937.6,753.1 L938.0,752.0 L938.5,750.1 L938.9,754.3 L939.3,751.1 L939.7,754.0 L940.2,758.7 L940.6,748.8 L941.0,756.4 L941.4,757.5 L941.9,753.5 L942.3,758.7 L942.7,758.6 L943.1,756.8 L943.6,762.3 L944.0,754.8 L944.4,761.5 L944.8,759.2 L945.3,757.1 L945.7,760.4 L946.1,760.4 L946.5,764.6 L947.0,757.8 L947.4,762.5 L947.8,762.2 L948.2,769.1 L948.6,761.2 L949.1,768.6 L949.5,760.3 L949.9,767.4 L950.3,766.4 L950.8,768.6 L951.2,765.7 L951.6,762.3 L952.0,764.1 L952.5,773.6 L952.9,770.7 L953.3,767.8 L953.7,773.8 L954.2,769.2 L954.6,769.7 L955.0,768.8 L955.4,776.7 L955.9,779.7 L956.3,771.1 L956.7,775.5 L957.1,778.1 L957.6,782.2 L958.0,768.6 L958.4,777.0 L958.8,779.0 L959.3,772.9 L959.7,779.2 L960.1,778.9 L960.5,781.0 L961.0,777.3 L961.4,780.8 L961.8,778.0 L962.2,782.1 L962.7,781.1 L963.1,779.8 L963.5,777.0 L963.9,786.8 L964.4,785.5 L964.8,785.1 L965.2,780.7 L965.6,782.0 L966.0,788.6 L966.5,786.0 L966.9,781.5 L967.3,784.6 L967.7,785.2 L968.2,784.5 L968.6,782.6 L969.0,789.7 L969.4,788.0 L969.9,786.0 L970.3,782.2 L970.7,785.6 L971.1,787.8 L971.6,790.9 L972.0,787.5 L972.4,792.5 L972.8,790.0 L973.3,787.7 L973.7,781.9 L974.1,787.3 L974.5,786.8 L975.0,791.3 L975.4,793.2 L975.8,796.9 L976.2,793.1 L976.7,790.0 L977.1,801.1 L977.5,795.3 L977.9,794.0 L978.4,794.4 L978.8,791.4 L979.2,797.8 L979.6,797.4 L980.1,801.4 L980.5,800.2 L980.9,799.8 L981.3,801.3 L981.8,796.9 L982.2,796.7 L982.6,798.2 L983.0,794.9 L983.4,798.5 L983.9,798.1 L984.3,801.4 L984.7,799.6 L985.1,794.1 L985.6,800.2 L986.0,804.6 L986.4,795.1 L986.8,798.5 L987.3,801.1 L987.7,797.3 L988.1,799.9 L988.5,801.9 L989.0,798.0 L989.4,803.1 L989.8,803.7 L990.2,798.9 L990.7,803.1 L991.1,806.5 L991.5,803.0 L991.9,805.1 L992.4,805.9 L992.8,803.6 L993.2,807.5 L993.6,805.9 L994.1,802.1 L994.5,806.8 L994.9,808.1 L995.3,808.2 L995.8,804.1 L996.2,807.7 L996.6,810.6 L997.0,807.5 L997.5,810.6 L997.9,811.2 L998.3,807.5 L998.7,809.8 L999.2,807.3 L999.6,811.6 L1000.0,808.4 L1000.4,807.3 L1000.9,809.1 L1001.3,809.3 L1001.7,810.9 L1002.1,811.5 L1002.5,807.0 L1003.0,808.8 L1003.4,812.1 L1003.8,812.8 L1004.2,812.0 L1004.7,819.8 L1005.1,815.7 L1005.5,812.4 L1005.9,815.2 L1006.4,817.3 L1006.8,814.7 L1007.2,808.8 L1007.6,814.5 L1008.1,814.7 L1008.5,821.1 L1008.9,809.7 L1009.3,819.9 L1009.8,815.1 L1010.2,818.6 L1010.6,815.2 L1011.0,816.8 L1011.5,819.8 L1011.9,816.9 L1012.3,820.0 L1012.7,816.9 L1013.2,816.1 L1013.6,816.8 L1014.0,816.2 L1014.4,817.5 L1014.9,822.0 L1015.3,814.8 L1015.7,813.5 L1016.1,818.5 L1016.6,823.7 L1017.0,822.0 L1017.4,822.9 L1017.8,822.9 L1018.3,817.2 L1018.7,819.8 L1019.1,811.8 L1019.5,818.0 L1019.9,821.7 L1020.4,815.4 L1020.8,814.1 L1021.2,816.4 L1021.6,821.0 L1022.1,823.8 L1022.5,828.1 L1022.9,824.8 L1023.3,816.3 L1023.8,814.0 L1024.2,821.3 L1024.6,824.0 L1025.0,816.3 L1025.5,819.6 L1025.9,819.9 L1026.3,821.3 L1026.7,820.8 L1027.2,822.9 L1027.6,824.6 L1028.0,821.8 L1028.4,823.9 L1028.9,827.6 L1029.3,818.9 L1029.7,818.9 L1030.1,823.5 L1030.6,827.6 L1031.0,822.8 L1031.4,825.6 L1031.8,821.7 L1032.3,825.5 L1032.7,821.2 L1033.1,825.2 L1033.5,824.6 L1034.0,824.8 L1034.4,827.9 L1034.8,827.2 L1035.2,822.6 L1035.7,827.2 L1036.1,819.9 L1036.5,827.9 L1036.9,833.2 L1037.3,827.0 L1037.8,827.1 L1038.2,826.0 L1038.6,828.4 L1039.0,824.8 L1039.5,828.1 L1039.9,825.5 L1040.3,825.1 L1040.7,826.7 L1041.2,826.2 L1041.6,821.3 L1042.0,832.4 L1042.4,826.8 L1042.9,821.4 L1043.3,829.5 L1043.7,826.3 L1044.1,827.0 L1044.6,828.4 L1045.0,823.8 L1045.4,817.8 L1045.8,826.1 L1046.3,827.1 L1046.7,829.3 L1047.1,824.2 L1047.5,825.6 L1048.0,827.5 L1048.4,825.4 L1048.8,825.6 L1049.2,827.1 L1049.7,823.5 L1050.1,831.0 L1050.5,823.7 L1050.9,826.5 L1051.4,825.4 L1051.8,824.3 L1052.2,828.0 L1052.6,829.4 L1053.1,830.7 L1053.5,828.3 L1053.9,825.3 L1054.3,829.2 L1054.7,822.6 L1055.2,827.0 L1055.6,828.5 L1056.0,828.7 L1056.4,823.8 L1056.9,822.9 L1057.3,832.2 L1057.7,826.0 L1058.1,822.8 L1058.6,824.1 L1059.0,827.8 L1059.4,831.3 L1059.8,828.0 L1060.3,831.6 L1060.7,828.9 L1061.1,829.7 L1061.5,831.4 L1062.0,827.6 L1062.4,829.7 L1062.8,827.9 L1063.2,827.4 L1063.7,831.4 L1064.1,827.3 L1064.5,830.2 L1064.9,827.9 L1065.4,830.2 L1065.8,829.2 L1066.2,834.1 L1066.6,831.4 L1067.1,831.6 L1067.5,836.4 L1067.9,823.5 L1068.3,828.9 L1068.8,824.4 L1069.2,832.5 L1069.6,833.9 L1070.0,834.7 L1070.5,833.8 L1070.9,830.6 L1071.3,838.3 L1071.7,834.2 L1072.1,832.7 L1072.6,830.3 L1073.0,834.8 L1073.4,832.3 L1073.8,832.5 L1074.3,834.5 L1074.7,834.6 L1075.1,831.6 L1075.5,837.7 L1076.0,831.3 L1076.4,831.0 L1076.8,835.2 L1077.2,834.7 L1077.7,834.6 L1078.1,833.3 L1078.5,834.7 L1078.9,833.0 L1079.4,830.0 L1079.8,836.9 L1080.2,832.0 L1080.6,834.3 L1081.1,837.2 L1081.5,835.2 L1081.9,843.1 L1082.3,831.4 L1082.8,833.4 L1083.2,835.9 L1083.6,839.6 L1084.0,835.2 L1084.5,831.9 L1084.9,839.4 L1085.3,833.6 L1085.7,835.8 L1086.2,839.0 L1086.6,834.7 L1087.0,835.5 L1087.4,838.3 L1087.9,836.5 L1088.3,838.0 L1088.7,834.6 L1089.1,837.1 L1089.5,834.5 L1090.0,833.3 L1090.4,842.8 L1090.8,839.3 L1091.2,840.7 L1091.7,835.5 L1092.1,838.3 L1092.5,837.9 L1092.9,834.6 L1093.4,840.3 L1093.8,836.8 L1094.2,838.4 L1094.6,834.8 L1095.1,842.1 L1095.5,841.6 L1095.9,840.7 L1096.3,837.1 L1096.8,838.3 L1097.2,843.4 L1097.6,839.3 L1098.0,841.0 L1098.5,840.7 L1098.9,837.3 L1099.3,844.9 L1099.7,835.1 L1100.2,841.4 L1100.6,840.7 L1101.0,836.4 L1101.4,842.1 L1101.9,842.7 L1102.3,841.5 L1102.7,839.1 L1103.1,842.8 L1103.6,844.7 L1104.0,842.3 L1104.4,846.6 L1104.8,844.3 L1105.3,844.1 L1105.7,845.9 L1106.1,840.2 L1106.5,840.7 L1107.0,843.7 L1107.4,843.8 L1107.8,846.7 L1108.2,845.7 L1108.6,843.1 L1109.1,843.3 L1109.5,841.9 L1109.9,841.8 L1110.3,841.6 L1110.8,845.5 L1111.2,841.7 L1111.6,842.2 L1112.0,843.7 L1112.5,841.9 L1112.9,842.8 L1113.3,837.3 L1113.7,844.6 L1114.2,842.8 L1114.6,844.3 L1115.0,844.9 L1115.4,838.7 L1115.9,850.8 L1116.3,844.5 L1116.7,844.7 L1117.1,839.3 L1117.6,846.2 L1118.0,845.7 L1118.4,843.6 L1118.8,845.5 L1119.3,848.5 L1119.7,844.0 L1120.1,842.6 L1120.5,849.0 L1121.0,846.1 L1121.4,845.0 L1121.8,852.1 L1122.2,846.3 L1122.7,845.5 L1123.1,846.9 L1123.5,845.2 L1123.9,847.1 L1124.4,847.2 L1124.8,845.1 L1125.2,846.4 L1125.6,848.2 L1126.0,848.6 L1126.5,849.4 L1126.9,850.2 L1127.3,848.8 L1127.7,849.8 L1128.2,847.4 L1128.6,848.0 L1129.0,851.7 L1129.4,843.4 L1129.9,850.1 L1130.3,857.3 L1130.7,844.1 L1131.1,853.5 L1131.6,844.5 L1132.0,850.4 L1132.4,854.0 L1132.8,853.7 L1133.3,847.0 L1133.7,845.9 L1134.1,845.6 L1134.5,851.6 L1135.0,848.5 L1135.4,849.7 L1135.8,850.4 L1136.2,850.8 L1136.7,851.2 L1137.1,850.1 L1137.5,845.3 L1137.9,853.9 L1138.4,842.1 L1138.8,853.3 L1139.2,848.2 L1139.6,849.4 L1140.1,848.5 L1140.5,849.0 L1140.9,850.0 L1141.3,849.4 L1141.8,847.2 L1142.2,852.7 L1142.6,848.8 L1143.0,854.3 L1143.4,850.2 L1143.9,848.7 L1144.3,852.1 L1144.7,853.4 L1145.1,848.5 L1145.6,850.4 L1146.0,855.3 L1146.4,848.7 L1146.8,849.2 L1147.3,852.2 L1147.7,848.5 L1148.1,845.2 L1148.5,847.5 L1149.0,853.3 L1149.4,854.3 L1149.8,854.2 L1150.2,853.8 L1150.7,849.4 L1151.1,854.9 L1151.5,856.3 L1151.9,851.3 L1152.4,856.0 L1152.8,852.5 L1153.2,854.1 L1153.6,854.8 L1154.1,849.7 L1154.5,858.0 L1154.9,851.7 L1155.3,853.9 L1155.8,853.0 L1156.2,855.7 L1156.6,855.8 L1157.0,854.8 L1157.5,858.8 L1157.9,855.8 L1158.3,854.0 L1158.7,847.3 L1159.2,854.6 L1159.6,854.7 L1160.0,853.2 L1160.4,853.4 L1160.8,857.5 L1161.3,858.9 L1161.7,861.4 L1162.1,859.5 L1162.5,854.5 L1163.0,857.3 L1163.4,853.0 L1163.8,858.9 L1164.2,858.1 L1164.7,855.6 L1165.1,857.1 L1165.5,856.9 L1165.9,856.0 L1166.4,861.5 L1166.8,866.2 L1167.2,860.5 L1167.6,861.3 L1168.1,859.0 L1168.5,857.7 L1168.9,864.8 L1169.3,857.9 L1169.8,860.2 L1170.2,858.9 L1170.6,861.0 L1171.0,859.3 L1171.5,861.2 L1171.9,856.2 L1172.3,859.5 L1172.7,863.6 L1173.2,857.1 L1173.6,858.2 L1174.0,863.9 L1174.4,861.3 L1174.9,863.2 L1175.3,854.2 L1175.7,860.8 L1176.1,857.0 L1176.6,856.8 L1177.0,861.8 L1177.4,864.0 L1177.8,856.7 L1178.2,857.8 L1178.7,859.3 L1179.1,860.7 L1179.5,857.5 L1179.9,867.4 L1180.4,862.9 L1180.8,860.4 L1181.2,860.1 L1181.6,867.9 L1182.1,867.8 L1182.5,860.5 L1182.9,862.9 L1183.3,865.5 L1183.8,859.0 L1184.2,860.8 L1184.6,866.2 L1185.0,860.8 L1185.5,861.7 L1185.9,859.4 L1186.3,861.1 L1186.7,865.3 L1187.2,861.3 L1187.6,860.2 L1188.0,862.2 L1188.4,869.0 L1188.9,864.8 L1189.3,863.0 L1189.7,865.1 L1190.1,866.1 L1190.6,865.4 L1191.0,860.3 L1191.4,866.2 L1191.8,865.0 L1192.3,868.0 L1192.7,862.2 L1193.1,868.9 L1193.5,864.9 L1194.0,861.8 L1194.4,870.2 L1194.8,865.4 L1195.2,867.9 L1195.6,866.7 L1196.1,870.2 L1196.5,870.5 L1196.9,870.7 L1197.3,869.7 L1197.8,863.6 L1198.2,863.6 L1198.6,868.9 L1199.0,865.9 L1199.5,869.9 L1199.9,869.3 L1200.3,865.1 L1200.7,866.3 L1201.2,866.2 L1201.6,867.0 L1202.0,869.0 L1202.4,871.5 L1202.9,873.5 L1203.3,867.4 L1203.7,868.6 L1204.1,874.4 L1204.6,872.7 L1205.0,871.1 L1205.4,864.2 L1205.8,868.0 L1206.3,871.2 L1206.7,869.3 L1207.1,876.4 L1207.5,871.4 L1208.0,872.0 L1208.4,868.4 L1208.8,868.7 L1209.2,869.8 L1209.7,870.1 L1210.1,871.2 L1210.5,873.0 L1210.9,872.8 L1211.4,875.0 L1211.8,868.8 L1212.2,873.2 L1212.6,873.4 L1213.1,877.2 L1213.5,872.6 L1213.9,874.3 L1214.3,871.4 L1214.7,875.0 L1215.2,875.2 L1215.6,872.7 L1216.0,873.4 L1216.4,874.8 L1216.9,876.7 L1217.3,872.3 L1217.7,878.0 L1218.1,875.0 L1218.6,881.1 L1219.0,880.2 L1219.4,875.5 L1219.8,875.1 L1220.3,883.5 L1220.7,878.8 L1221.1,878.8 L1221.5,876.3 L1222.0,877.2 L1222.4,879.8 L1222.8,879.5 L1223.2,875.7 L1223.7,881.4 L1224.1,879.0 L1224.5,875.8 L1224.9,881.1 L1225.4,878.1 L1225.8,880.7 L1226.2,877.3 L1226.6,879.8 L1227.1,874.7 L1227.5,880.0 L1227.9,875.1 L1228.3,879.7 L1228.8,872.6 L1229.2,879.2 L1229.6,881.3 L1230.0,880.8 L1230.5,882.7 L1230.9,876.7 L1231.3,883.7 L1231.7,883.8 L1232.1,876.4 L1232.6,877.5 L1233.0,878.1 L1233.4,879.5 L1233.8,880.1 L1234.3,873.1 L1234.7,881.2 L1235.1,878.9 L1235.5,876.9 L1236.0,882.1 L1236.4,878.7 L1236.8,882.6 L1237.2,881.0 L1237.7,878.7 L1238.1,882.7 L1238.5,881.7 L1238.9,878.3 L1239.4,875.3 L1239.8,878.1 L1240.2,881.2 L1240.6,879.0 L1241.1,884.2 L1241.5,880.3 L1241.9,880.1 L1242.3,880.7 L1242.8,877.3 L1243.2,879.4 L1243.6,878.0 L1244.0,873.7 L1244.5,875.4 L1244.9,882.1 L1245.3,879.2 L1245.7,880.2 L1246.2,876.8 L1246.6,879.3 L1247.0,883.1 L1247.4,881.5 L1247.9,880.1 L1248.3,885.7 L1248.7,881.7 L1249.1,881.1 L1249.5,885.1 L1250.0,877.7 L1250.4,883.8 L1250.8,879.5 L1251.2,880.5 L1251.7,880.8 L1252.1,882.9 L1252.5,882.9 L1252.9,883.4 L1253.4,883.1 L1253.8,886.3 L1254.2,887.0 L1254.6,884.4 L1255.1,884.6 L1255.5,881.6 L1255.9,879.7 L1256.3,884.1 L1256.8,882.7 L1257.2,884.8 L1257.6,877.8 L1258.0,889.6 L1258.5,879.3 L1258.9,882.7 L1259.3,885.2 L1259.7,879.0 L1260.2,881.1 L1260.6,877.3 L1261.0,878.8 L1261.4,877.5 L1261.9,882.9 L1262.3,883.4 L1262.7,881.8 L1263.1,886.0 L1263.6,886.4 L1264.0,882.8 L1264.4,882.3 L1264.8,882.3 L1265.3,882.0 L1265.7,886.7 L1266.1,884.1 L1266.5,882.7 L1266.9,883.2 L1267.4,885.4 L1267.8,883.1 L1268.2,885.1 L1268.6,884.4 L1269.1,888.1 L1269.5,887.8 L1269.9,881.3 L1270.3,884.7 L1270.8,887.1 L1271.2,884.2 L1271.6,887.6 L1272.0,886.5 L1272.5,887.3 L1272.9,885.7 L1273.3,886.7 L1273.7,887.4 L1274.2,882.3 L1274.6,883.8 L1275.0,883.7 L1275.4,890.8 L1275.9,887.3 L1276.3,887.5 L1276.7,887.1 L1277.1,885.4 L1277.6,884.9 L1278.0,889.1 L1278.4,886.0 L1278.8,891.2 L1279.3,887.7 L1279.7,887.5 L1280.1,886.8 L1280.5,887.2 L1281.0,887.6 L1281.4,891.5 L1281.8,893.7 L1282.2,884.8 L1282.7,888.5 L1283.1,889.8 L1283.5,885.7 L1283.9,886.5 L1284.3,887.0 L1284.8,882.1 L1285.2,890.1 L1285.6,888.4 L1286.0,888.3 L1286.5,888.9 L1286.9,889.4 L1287.3,894.8 L1287.7,889.4 L1288.2,891.1 L1288.6,887.7 L1289.0,890.1 L1289.4,888.4 L1289.9,888.9 L1290.3,887.1 L1290.7,887.4 L1291.1,890.7 L1291.6,891.5 L1292.0,890.8 L1292.4,888.0 L1292.8,890.6 L1293.3,883.3 L1293.7,892.3 L1294.1,889.8 L1294.5,890.7 L1295.0,893.0 L1295.4,889.0 L1295.8,892.5 L1296.2,889.0 L1296.7,891.6 L1297.1,889.2 L1297.5,891.0 L1297.9,894.0 L1298.4,888.7 L1298.8,888.8 L1299.2,889.6 L1299.6,891.2 L1300.1,897.5 L1300.5,889.0 L1300.9,885.3 L1301.3,888.9 L1301.7,886.6 L1302.2,889.3 L1302.6,890.8 L1303.0,888.4 L1303.4,889.2 L1303.9,886.2 L1304.3,891.5 L1304.7,889.2 L1305.1,894.0 L1305.6,894.0 L1306.0,889.2 L1306.4,890.6 L1306.8,891.8 L1307.3,893.7 L1307.7,887.6 L1308.1,891.7 L1308.5,896.8 L1309.0,891.9 L1309.4,892.8 L1309.8,892.3 L1310.2,889.4 L1310.7,894.9 L1311.1,893.2 L1311.5,893.0 L1311.9,894.6 L1312.4,894.8 L1312.8,888.0 L1313.2,894.1 L1313.6,891.5 L1314.1,893.4 L1314.5,891.2 L1314.9,890.9 L1315.3,895.5 L1315.8,893.1 L1316.2,892.5 L1316.6,892.5 L1317.0,893.5 L1317.5,893.3 L1317.9,887.4 L1318.3,891.2 L1318.7,892.9 L1319.2,895.4 L1319.6,897.0 L1320.0,891.2 L1320.4,898.5 L1320.8,893.9 L1321.3,895.0 L1321.7,892.4 L1322.1,892.3 L1322.5,897.5 L1323.0,893.4 L1323.4,893.7 L1323.8,896.9 L1324.2,898.4 L1324.7,890.3 L1325.1,893.7 L1325.5,894.2 L1325.9,898.9 L1326.4,900.6 L1326.8,894.3 L1327.2,895.4 L1327.6,896.7 L1328.1,897.5 L1328.5,893.8 L1328.9,896.9 L1329.3,893.0 L1329.8,888.0 L1330.2,891.4 L1330.6,895.5 L1331.0,897.0 L1331.5,889.3 L1331.9,890.5 L1332.3,895.1 L1332.7,887.4 L1333.2,896.7 L1333.6,898.0 L1334.0,887.9 L1334.4,897.4 L1334.9,895.1 L1335.3,899.2 L1335.7,896.4 L1336.1,895.2 L1336.6,896.1 L1337.0,898.3 L1337.4,896.4 L1337.8,896.1 L1338.2,892.4 L1338.7,897.4 L1339.1,896.3 L1339.5,900.9 L1339.9,896.3 L1340.4,896.2 L1340.8,894.9 L1341.2,898.3 L1341.6,896.1 L1342.1,894.9 L1342.5,900.8 L1342.9,901.3 L1343.3,895.7 L1343.8,894.3 L1344.2,899.8 L1344.6,894.9 L1345.0,904.2 L1345.5,896.8 L1345.9,899.7 L1346.3,894.1 L1346.7,897.3 L1347.2,900.2 L1347.6,898.6 L1348.0,896.2 L1348.4,903.8 L1348.9,899.6 L1349.3,897.2 L1349.7,896.3 L1350.1,897.3 L1350.6,901.4 L1351.0,896.1 L1351.4,898.2 L1351.8,896.1 L1352.3,901.4 L1352.7,897.9 L1353.1,900.6 L1353.5,899.9 L1354.0,897.1 L1354.4,900.3 L1354.8,901.0 L1355.2,895.8 L1355.6,900.5 L1356.1,906.0 L1356.5,898.1 L1356.9,900.6 L1357.3,895.7 L1357.8,900.2 L1358.2,897.6 L1358.6,901.1 L1359.0,899.1 L1359.5,896.3 L1359.9,902.1 L1360.3,898.8 L1360.7,896.9 L1361.2,899.7 L1361.6,897.1 L1362.0,900.6 L1362.4,899.5 L1362.9,898.7 L1363.3,901.4 L1363.7,896.5 L1364.1,902.2 L1364.6,894.8 L1365.0,903.9 L1365.4,900.4 L1365.8,899.3 L1366.3,898.1 L1366.7,901.4 L1367.1,899.7 L1367.5,899.7 L1368.0,902.7 L1368.4,899.1 L1368.8,899.6 L1369.2,901.3 L1369.7,903.0 L1370.1,900.0 L1370.5,900.8 L1370.9,900.5 L1371.4,902.3 L1371.8,904.2 L1372.2,898.2 L1372.6,900.2 L1373.0,900.5 L1373.5,902.1 L1373.9,904.4 L1374.3,900.7 L1374.7,901.3 L1375.2,903.6 L1375.6,897.7 L1376.0,898.9 L1376.4,899.8 L1376.9,900.9 L1377.3,901.6 L1377.7,899.8 L1378.1,905.5 L1378.6,899.4 L1379.0,900.7 L1379.4,904.0 L1379.8,903.3 L1380.3,901.3 L1380.7,902.4 L1381.1,903.5 L1381.5,901.5 L1382.0,903.2 L1382.4,899.4 L1382.8,901.9 L1383.2,897.7 L1383.7,899.6 L1384.1,899.1 L1384.5,905.2 L1384.9,901.0 L1385.4,903.0 L1385.8,900.0 L1386.2,901.9 L1386.6,901.8 L1387.1,900.4 L1387.5,904.8 L1387.9,898.6 L1388.3,904.4 L1388.8,909.6 L1389.2,901.0 L1389.6,903.2 L1390.0,899.3 L1390.4,903.2 L1390.9,899.0 L1391.3,905.1 L1391.7,902.3 L1392.1,899.0 L1392.6,900.5 L1393.0,899.8 L1393.4,903.2 L1393.8,906.1 L1394.3,903.1 L1394.7,901.2 L1395.1,902.2 L1395.5,904.6 L1396.0,898.3 L1396.4,906.0 L1396.8,905.6 L1397.2,898.5 L1397.7,907.7 L1398.1,900.7 L1398.5,904.3 L1398.9,907.9 L1399.4,900.9 L1399.8,900.4 L1400.2,902.3 L1400.6,902.4 L1401.1,904.8 L1401.5,903.9 L1401.9,904.0 L1402.3,904.1 L1402.8,904.9 L1403.2,903.3 L1403.6,906.3 L1404.0,905.6 L1404.5,903.1 L1404.9,910.3 L1405.3,902.6 L1405.7,907.6 L1406.2,904.0 L1406.6,906.8 L1407.0,907.3 L1407.4,908.2 L1407.8,909.7 L1408.3,904.0 L1408.7,913.4 L1409.1,907.3 L1409.5,904.3 L1410.0,903.0 L1410.4,912.3 L1410.8,910.6 L1411.2,906.5 L1411.7,908.5 L1412.1,910.0 L1412.5,907.0 L1412.9,905.7 L1413.4,906.7 L1413.8,908.9 L1414.2,906.9 L1414.6,903.8 L1415.1,908.8 L1415.5,902.7 L1415.9,905.1 L1416.3,910.1 L1416.8,907.7 L1417.2,907.7 L1417.6,907.4 L1418.0,909.7 L1418.5,907.0 L1418.9,902.3 L1419.3,907.8 L1419.7,899.6 L1420.2,902.0 L1420.6,911.1 L1421.0,909.8 L1421.4,906.0 L1421.9,907.0 L1422.3,907.4 L1422.7,909.7 L1423.1,905.2 L1423.6,905.0 L1424.0,905.6 L1424.4,907.5 L1424.8,907.8 L1425.2,906.2 L1425.7,909.1 L1426.1,904.6 L1426.5,907.0 L1426.9,905.4 L1427.4,904.7 L1427.8,910.2 L1428.2,906.4 L1428.6,904.7 L1429.1,907.3 L1429.5,904.7 L1429.9,908.7 L1430.3,909.3 L1430.8,909.7 L1431.2,904.5 L1431.6,906.8 L1432.0,911.8 L1432.5,906.6 L1432.9,910.3 L1433.3,911.0 L1433.7,903.7 L1434.2,910.2 L1434.6,909.1 L1435.0,909.4 L1435.4,911.4 L1435.9,908.3 L1436.3,907.4 L1436.7,908.7 L1437.1,906.3 L1437.6,908.4 L1438.0,902.1 L1438.4,911.5 L1438.8,905.9 L1439.3,908.5 L1439.7,908.0 L1440.1,907.4 L1440.5,907.5 L1441.0,907.3 L1441.4,903.1 L1441.8,905.8 L1442.2,910.2 L1442.7,904.7 L1443.1,904.6 L1443.5,912.6 L1443.9,910.4 L1444.3,911.3 L1444.8,907.4 L1445.2,908.2 L1445.6,909.4 L1446.0,909.0 L1446.5,907.4 L1446.9,904.1 L1447.3,906.0 L1447.7,904.1 L1448.2,911.9 L1448.6,907.0 L1449.0,907.6 L1449.4,908.9 L1449.9,908.3 L1450.3,909.6 L1450.7,906.9 L1451.1,904.7 L1451.6,912.9 L1452.0,906.9 L1452.4,907.6 L1452.8,906.9 L1453.3,907.6 L1453.7,909.0 L1454.1,910.9 L1454.5,906.5 L1455.0,910.0 L1455.4,907.6 L1455.8,912.4 L1456.2,906.4 L1456.7,909.8 L1457.1,911.4 L1457.5,906.3 L1457.9,910.0 L1458.4,910.2 L1458.8,907.9 L1459.2,909.4 L1459.6,912.4 L1460.1,910.6 L1460.5,909.0 L1460.9,909.5 L1461.3,911.2 L1461.7,913.2 L1462.2,912.1 L1462.6,912.0 L1463.0,914.0 L1463.4,906.4 L1463.9,906.7 L1464.3,904.7 L1464.7,912.3 L1465.1,904.7 L1465.6,910.2 L1466.0,912.2 L1466.4,906.9 L1466.8,908.8 L1467.3,909.7 L1467.7,912.2 L1468.1,906.7 L1468.5,911.2 L1469.0,912.2 L1469.4,910.8 L1469.8,910.9 L1470.2,913.6 L1470.7,911.1 L1471.1,910.5 L1471.5,909.7 L1471.9,912.1 L1472.4,909.9 L1472.8,912.2 L1473.2,910.8 L1473.6,913.4 L1474.1,908.7 L1474.5,910.8 L1474.9,911.5 L1475.3,911.7 L1475.8,913.5 L1476.2,911.7 L1476.6,912.9 L1477.0,915.5 L1477.5,912.8 L1477.9,908.2 L1478.3,907.4 L1478.7,912.5 L1479.1,910.0 L1479.6,911.6 L1480.0,910.5 L1480.4,914.1 L1480.8,913.9 L1481.3,908.3 L1481.7,911.7 L1482.1,910.4 L1482.5,908.0 L1483.0,912.8 L1483.4,910.9 L1483.8,912.4 L1484.2,917.4 L1484.7,914.7 L1485.1,914.2 L1485.5,910.6 L1485.9,908.8 L1486.4,914.8 L1486.8,911.1 L1487.2,912.0 L1487.6,911.1 L1488.1,912.3 L1488.5,918.0 L1488.9,911.5 L1489.3,911.7 L1489.8,912.9 L1490.2,913.2 L1490.6,909.7 L1491.0,908.4 L1491.5,911.4 L1491.9,912.3 L1492.3,911.0 L1492.7,910.6 L1493.2,910.8 L1493.6,912.2 L1494.0,913.0 L1494.4,909.4 L1494.9,912.1 L1495.3,914.3 L1495.7,913.2 L1496.1,910.3 L1496.5,912.8 L1497.0,913.6 L1497.4,915.6 L1497.8,909.9 L1498.2,915.5 L1498.7,912.7 L1499.1,914.4 L1499.5,915.5 L1499.9,911.8 L1500.4,912.0 L1500.8,913.7 L1501.2,915.7 L1501.6,912.6 L1502.1,910.5 L1502.5,912.2 L1502.9,914.8 L1503.3,916.7 L1503.8,912.7 L1504.2,913.1 L1504.6,913.5 L1505.0,913.6 L1505.5,911.6 L1505.9,912.8 L1506.3,914.4 L1506.7,914.1 L1507.2,913.9 L1507.6,911.5 L1508.0,912.6 L1508.4,912.2 L1508.9,916.4 L1509.3,917.4 L1509.7,914.7 L1510.1,917.7 L1510.6,913.2 L1511.0,913.2 L1511.4,910.8 L1511.8,914.5 L1512.3,912.8 L1512.7,914.1 L1513.1,915.1 L1513.5,913.3 L1513.9,911.2 L1514.4,913.8 L1514.8,913.7 L1515.2,914.0 L1515.6,915.5 L1516.1,913.4 L1516.5,913.3 L1516.9,918.1 L1517.3,916.5 L1517.8,913.7 L1518.2,911.7 L1518.6,912.9 L1519.0,914.8 L1519.5,915.9 L1519.9,919.7 L1520.3,913.4 L1520.7,914.3 L1521.2,913.1 L1521.6,914.1 L1522.0,913.0 L1522.4,911.4 L1522.9,916.4 L1523.3,914.3 L1523.7,917.0 L1524.1,912.8 L1524.6,914.6 L1525.0,915.5 L1525.4,909.5 L1525.8,910.8 L1526.3,915.8 L1526.7,914.2 L1527.1,909.6 L1527.5,912.2 L1528.0,911.5 L1528.4,912.9 L1528.8,917.7 L1529.2,912.6 L1529.7,918.8 L1530.1,913.4 L1530.5,912.3 L1530.9,917.8 L1531.4,916.3 L1531.8,917.3 L1532.2,918.7 L1532.6,916.6 L1533.0,917.0 L1533.5,910.0 L1533.9,912.1 L1534.3,915.1 L1534.7,914.5 L1535.2,915.8 L1535.6,912.9 L1536.0,916.7 L1536.4,918.9 L1536.9,915.5 L1537.3,916.1 L1537.7,915.3 L1538.1,916.3 L1538.6,914.6 L1539.0,912.9 L1539.4,914.6 L1539.8,914.4 L1540.3,910.5 L1540.7,914.7 L1541.1,914.2 L1541.5,914.6 L1542.0,912.8 L1542.4,915.3 L1542.8,915.6 L1543.2,912.4 L1543.7,914.9 L1544.1,916.0 L1544.5,915.9 L1544.9,911.9 L1545.4,911.7 L1545.8,914.2 L1546.2,911.6 L1546.6,920.0 L1547.1,912.1 L1547.5,912.2 L1547.9,915.6 L1548.3,912.9 L1548.8,908.5 L1549.2,913.7 L1549.6,911.7 L1550.0,912.8 L1550.4,910.2 L1550.9,911.8 L1551.3,913.6 L1551.7,913.8 L1552.1,911.3 L1552.6,912.2 L1553.0,911.9 L1553.4,914.3 L1553.8,913.6 L1554.3,910.9 L1554.7,915.4 L1555.1,912.2 L1555.5,914.8 L1556.0,911.7 L1556.4,914.6 L1556.8,913.6 L1557.2,914.0 L1557.7,915.1 L1558.1,914.9 L1558.5,914.3 L1558.9,914.3 L1559.4,910.8 L1559.8,913.7 L1560.2,908.7 L1560.6,908.5 L1561.1,913.1 L1561.5,913.3 L1561.9,917.4 L1562.3,915.4 L1562.8,916.5 L1563.2,913.1 L1563.6,914.9 L1564.0,916.7 L1564.5,915.2 L1564.9,914.8 L1565.3,914.2 L1565.7,911.8 L1566.2,911.9 L1566.6,910.6 L1567.0,915.0 L1567.4,913.5 L1567.8,912.5 L1568.3,915.0 L1568.7,912.8 L1569.1,916.7 L1569.5,918.8 L1570.0,915.4 L1570.4,912.7 L1570.8,910.8 L1571.2,919.2 L1571.7,915.5 L1572.1,911.7 L1572.5,917.0 L1572.9,910.6 L1573.4,913.5 L1573.8,914.0 L1574.2,913.8 L1574.6,912.0 L1575.1,920.4 L1575.5,913.8 L1575.9,915.7 L1576.3,914.9 L1576.8,911.0 L1577.2,913.5 L1577.6,915.3 L1578.0,917.1 L1578.5,914.1 L1578.9,915.8 L1579.3,914.1 L1579.7,916.3 L1580.2,909.1 L1580.6,916.4 L1581.0,913.5 L1581.4,913.6 L1581.9,908.2 L1582.3,912.4 L1582.7,916.4 L1583.1,920.4 L1583.6,913.3 L1584.0,913.3 L1584.4,916.0 L1584.8,915.5 L1585.2,913.4 L1585.7,914.4 L1586.1,913.8 L1586.5,916.2 L1586.9,916.5 L1587.4,918.8 L1587.8,916.7 L1588.2,916.1 L1588.6,914.8 L1589.1,916.6 L1589.5,912.0 L1589.9,919.4 L1590.3,914.8 L1590.8,917.5 L1591.2,912.1 L1591.6,916.4 L1592.0,914.8 L1592.5,913.4 L1592.9,912.1 L1593.3,911.5 L1593.7,917.9 L1594.2,916.4 L1594.6,913.7 L1595.0,913.8 L1595.4,911.5 L1595.9,908.7 L1596.3,908.8 L1596.7,911.5 L1597.1,912.5 L1597.6,910.0 L1598.0,914.6 L1598.4,913.9 L1598.8,912.9 L1599.3,908.2 L1599.7,911.9 L1600.1,912.3 L1600.5,909.2 L1601.0,906.9 L1601.4,916.7 L1601.8,913.5 L1602.2,911.0 L1602.6,915.8 L1603.1,914.5 L1603.5,912.8 L1603.9,912.2 L1604.3,913.5 L1604.8,915.1 L1605.2,911.6 L1605.6,910.8 L1606.0,912.7 L1606.5,904.4 L1606.9,911.4 L1607.3,910.1 L1607.7,911.0 L1608.2,910.5 L1608.6,911.7 L1609.0,911.1 L1609.4,910.9 L1609.9,910.3 L1610.3,911.7 L1610.7,909.3 L1611.1,912.8 L1611.6,906.3 L1612.0,910.8 L1612.4,911.3 L1612.8,907.0 L1613.3,909.0 L1613.7,913.2 L1614.1,909.6 L1614.5,907.7 L1615.0,902.5 L1615.4,910.5 L1615.8,909.9 L1616.2,911.0 L1616.7,914.4 L1617.1,909.4 L1617.5,909.6 L1617.9,907.6 L1618.4,909.0 L1618.8,909.0 L1619.2,910.8 L1619.6,910.3 L1620.0,907.0 L1620.5,907.6 L1620.9,912.1 L1621.3,906.3 L1621.7,910.4 L1622.2,912.4 L1622.6,910.0 L1623.0,908.9 L1623.4,911.6 L1623.9,909.0 L1624.3,908.1 L1624.7,907.5 L1625.1,910.7 L1625.6,909.6 L1626.0,911.6 L1626.4,906.9 L1626.8,906.9 L1627.3,906.5 L1627.7,908.2 L1628.1,905.7 L1628.5,909.6 L1629.0,908.1 L1629.4,904.8 L1629.8,899.8 L1630.2,902.5 L1630.7,910.4 L1631.1,906.7 L1631.5,907.1 L1631.9,905.6 L1632.4,907.6 L1632.8,901.8 L1633.2,901.5 L1633.6,902.4 L1634.1,906.5 L1634.5,907.9 L1634.9,907.3 L1635.3,905.8 L1635.8,902.9 L1636.2,907.9 L1636.6,905.2 L1637.0,905.7 L1637.5,905.5 L1637.9,904.5 L1638.3,903.8 L1638.7,904.0 L1639.1,902.2 L1639.6,906.0 L1640.0,904.9 L1640.4,907.7 L1640.8,900.7 L1641.3,908.0 L1641.7,904.9 L1642.1,904.6 L1642.5,902.9 L1643.0,902.8 L1643.4,901.1 L1643.8,906.9 L1644.2,904.1 L1644.7,906.3 L1645.1,906.6 L1645.5,903.2 L1645.9,903.8 L1646.4,903.5 L1646.8,906.8 L1647.2,904.5 L1647.6,904.5 L1648.1,905.8 L1648.5,903.8 L1648.9,908.9 L1649.3,901.5 L1649.8,906.9 L1650.2,907.2 L1650.6,900.8 L1651.0,905.7 L1651.5,904.2 L1651.9,905.6 L1652.3,900.4 L1652.7,903.9 L1653.2,900.8 L1653.6,902.4 L1654.0,906.6 L1654.4,902.7 L1654.9,897.4 L1655.3,899.5 L1655.7,900.1 L1656.1,905.4 L1656.5,901.1 L1657.0,898.9 L1657.4,905.5 L1657.8,903.3 L1658.2,903.5 L1658.7,900.7 L1659.1,906.1 L1659.5,902.3 L1659.9,897.7 L1660.4,899.7 L1660.8,900.4 L1661.2,902.1 L1661.6,904.4 L1662.1,900.7 L1662.5,901.0 L1662.9,908.0 L1663.3,902.7 L1663.8,901.2 L1664.2,902.6 L1664.6,899.4 L1665.0,903.9 L1665.5,905.0 L1665.9,901.1 L1666.3,905.1 L1666.7,901.9 L1667.2,903.4 L1667.6,900.8 L1668.0,900.7 L1668.4,899.0 L1668.9,903.3 L1669.3,902.1 L1669.7,902.2 L1670.1,900.0 L1670.6,900.0 L1671.0,901.3 L1671.4,904.1 L1671.8,903.7 L1672.3,901.3 L1672.7,903.8 L1673.1,907.4 L1673.5,903.4 L1673.9,908.2 L1674.4,904.3 L1674.8,906.5 L1675.2,902.0 L1675.6,906.2 L1676.1,900.5 L1676.5,904.0 L1676.9,902.6 L1677.3,898.6 L1677.8,900.2 L1678.2,906.4 L1678.6,904.8 L1679.0,906.9 L1679.5,904.2 L1679.9,896.6 L1680.3,904.4 L1680.7,902.4 L1681.2,902.6 L1681.6,902.8 L1682.0,902.1 L1682.4,901.6 L1682.9,907.1 L1683.3,905.2 L1683.7,902.5 L1684.1,903.1 L1684.6,906.6 L1685.0,905.1 L1685.4,904.7 L1685.8,901.3 L1686.3,903.2 L1686.7,901.6 L1687.1,899.7 L1687.5,906.6 L1688.0,903.7 L1688.4,903.5 L1688.8,902.2 L1689.2,906.4 L1689.7,909.8 L1690.1,906.1 L1690.5,907.0 L1690.9,901.7 L1691.3,905.2 L1691.8,905.3 L1692.2,908.5 L1692.6,904.9 L1693.0,902.6 L1693.5,904.8 L1693.9,903.9 L1694.3,908.6 L1694.7,906.7 L1695.2,906.0 L1695.6,905.6 L1696.0,907.3 L1696.4,904.1 L1696.9,903.1 L1697.3,900.7 L1697.7,908.3 L1698.1,906.7 L1698.6,907.1 L1699.0,905.6 L1699.4,909.7 L1699.8,903.2 L1700.3,908.6 L1700.7,903.7 L1701.1,904.7 L1701.5,902.8 L1702.0,906.1 L1702.4,905.2 L1702.8,907.0 L1703.2,904.6 L1703.7,902.7 L1704.1,907.5 L1704.5,909.3 L1704.9,908.0 L1705.4,906.2 L1705.8,907.4 L1706.2,902.3 L1706.6,905.7 L1707.1,909.4 L1707.5,907.7 L1707.9,904.6 L1708.3,908.8 L1708.7,906.5 L1709.2,908.7 L1709.6,903.5 L1710.0,905.7 L1710.4,907.9 L1710.9,907.9 L1711.3,908.6 L1711.7,907.3 L1712.1,906.9 L1712.6,908.6 L1713.0,909.6 L1713.4,903.9 L1713.8,906.9 L1714.3,907.3 L1714.7,908.2 L1715.1,910.4 L1715.5,904.7 L1716.0,909.4 L1716.4,903.9 L1716.8,906.4 L1717.2,907.0 L1717.7,907.7 L1718.1,906.9 L1718.5,907.2 L1718.9,907.7 L1719.4,908.0 L1719.8,904.2 L1720.2,905.4 L1720.6,907.8 L1721.1,910.2 L1721.5,911.4 L1721.9,916.0 L1722.3,909.4 L1722.8,907.3 L1723.2,909.7 L1723.6,911.0 L1724.0,909.7 L1724.5,906.9 L1724.9,909.3 L1725.3,909.5 L1725.7,906.2 L1726.1,906.8 L1726.6,912.7 L1727.0,904.4 L1727.4,910.3 L1727.8,909.3 L1728.3,913.3 L1728.7,911.5 L1729.1,908.0 L1729.5,913.2 L1730.0,908.8 L1730.4,915.0 L1730.8,914.3 L1731.2,910.1 L1731.7,912.2 L1732.1,910.9 L1732.5,908.3 L1732.9,913.1 L1733.4,911.6 L1733.8,912.7 L1734.2,913.2 L1734.6,914.1 L1735.1,913.2 L1735.5,910.6 L1735.9,911.0 L1736.3,911.9 L1736.8,910.6 L1737.2,910.4 L1737.6,915.5 L1738.0,912.2 L1738.5,915.6 L1738.9,909.3 L1739.3,911.1 L1739.7,910.2 L1740.2,910.3 L1740.6,910.6 L1741.0,911.0 L1741.4,910.3 L1741.9,915.7 L1742.3,913.1 L1742.7,909.7 L1743.1,910.2 L1743.6,913.4 L1744.0,912.9 L1744.4,910.2 L1744.8,913.9 L1745.2,908.3 L1745.7,910.6 L1746.1,915.9 L1746.5,905.6 L1746.9,911.4 L1747.4,914.3 L1747.8,911.6 L1748.2,910.1 L1748.6,909.9 L1749.1,907.1 L1749.5,909.0 L1749.9,912.3 L1750.3,910.9 L1750.8,912.3 L1751.2,912.0 L1751.6,913.1 L1752.0,908.4 L1752.5,911.7 L1752.9,911.7 L1753.3,911.8 L1753.7,910.5 L1754.2,907.4 L1754.6,914.2 L1755.0,914.7 L1755.4,918.5 L1755.9,914.6 L1756.3,916.8 L1756.7,914.3 L1757.1,912.1 L1757.6,914.2 L1758.0,910.3 L1758.4,913.7 L1758.8,912.9 L1759.3,910.7 L1759.7,916.2 L1760.1,916.0 L1760.5,914.4 L1761.0,915.3 L1761.4,917.3 L1761.8,913.1 L1762.2,910.3 L1762.6,911.3 L1763.1,915.2 L1763.5,914.2 L1763.9,910.1 L1764.3,916.9 L1764.8,914.2 L1765.2,917.6 L1765.6,916.5 L1766.0,912.8 L1766.5,914.1 L1766.9,912.2 L1767.3,911.9 L1767.7,913.3 L1768.2,915.2 L1768.6,917.3 L1769.0,911.9 L1769.4,915.8 L1769.9,914.2 L1770.3,913.6 L1770.7,916.9 L1771.1,913.4 L1771.6,917.5 L1772.0,913.5 L1772.4,912.1 L1772.8,916.1 L1773.3,910.9 L1773.7,911.5 L1774.1,913.9 L1774.5,914.4 L1775.0,913.8 L1775.4,909.7 L1775.8,911.3 L1776.2,915.7 L1776.7,915.8 L1777.1,912.1 L1777.5,915.2 L1777.9,915.0 L1778.4,917.0 L1778.8,912.8 L1779.2,918.1 L1779.6,913.9 L1780.0,918.1 L1780.5,916.9 L1780.9,912.3 L1781.3,914.0 L1781.7,915.4 L1782.2,917.2 L1782.6,911.5 L1783.0,913.6 L1783.4,916.3 L1783.9,916.0 L1784.3,912.3 L1784.7,912.7 L1785.1,915.9 L1785.6,912.5 L1786.0,915.5 L1786.4,917.1 L1786.8,915.0 L1787.3,908.6 L1787.7,917.8 L1788.1,917.8 L1788.5,918.5 L1789.0,917.2 L1789.4,911.1 L1789.8,918.6 L1790.2,916.0 L1790.7,917.5 L1791.1,914.9 L1791.5,914.7 L1791.9,914.8 L1792.4,919.2 L1792.8,916.1 L1793.2,915.0 L1793.6,912.5 L1794.1,916.7 L1794.5,915.7 L1794.9,916.1 L1795.3,918.1 L1795.8,917.5 L1796.2,915.8 L1796.6,916.4 L1797.0,916.1 L1797.4,917.7 L1797.9,917.7 L1798.3,916.4 L1798.7,914.1 L1799.1,918.2 L1799.6,918.4 L1800.0,913.7 L1800.4,917.2 L1800.8,915.4 L1801.3,911.2 L1801.7,916.3 L1802.1,918.8 L1802.5,914.8 L1803.0,914.9 L1803.4,919.1 L1803.8,914.0 L1804.2,914.5 L1804.7,916.0 L1805.1,918.3 L1805.5,918.3 L1805.9,915.6 L1806.4,916.2 L1806.8,917.1 L1807.2,916.0 L1807.6,914.9 L1808.1,914.4 L1808.5,918.8 L1808.9,916.6 L1809.3,924.0 L1809.8,918.6 L1810.2,915.4 L1810.6,917.2 L1811.0,918.0 L1811.5,918.2 L1811.9,918.3 L1812.3,918.4 L1812.7,917.0 L1813.2,918.9 L1813.6,922.6 L1814.0,916.3 L1814.4,916.5 L1814.8,919.1 L1815.3,920.4 L1815.7,919.4 L1816.1,920.4 L1816.5,917.3 L1817.0,916.9 L1817.4,919.1 L1817.8,919.1 L1818.2,921.5 L1818.7,921.3 L1819.1,913.2 L1819.5,919.4 L1819.9,916.0 L1820.4,912.6 L1820.8,918.6 L1821.2,917.3 L1821.6,916.8 L1822.1,914.6 L1822.5,915.3 L1822.9,917.2 L1823.3,914.2 L1823.8,917.5 L1824.2,918.0 L1824.6,917.4 L1825.0,918.5 L1825.5,917.7 L1825.9,915.1 L1826.3,915.4 L1826.7,918.2 L1827.2,920.2 L1827.6,918.3 L1828.0,916.8 L1828.4,918.4 L1828.9,913.7 L1829.3,915.7 L1829.7,917.2 L1830.1,918.0 L1830.6,917.4 L1831.0,917.5 L1831.4,915.4 L1831.8,916.9 L1832.2,918.9 L1832.7,913.9 L1833.1,915.5 L1833.5,917.6 L1833.9,922.0 L1834.4,920.1 L1834.8,922.3 L1835.2,921.8 L1835.6,917.6 L1836.1,918.5 L1836.5,915.9 L1836.9,921.6 L1837.3,920.6 L1837.8,920.3 L1838.2,920.5 L1838.6,920.1 L1839.0,919.5 L1839.5,919.7 L1839.9,922.0 L1840.3,917.3 L1840.7,916.7 L1841.2,919.3 L1841.6,922.1 L1842.0,920.0 L1842.4,918.9 L1842.9,921.5 L1843.3,919.8 L1843.7,915.0 L1844.1,917.2 L1844.6,914.6 L1845.0,919.2 L1845.4,918.7 L1845.8,920.8 L1846.3,924.9 L1846.7,918.4 L1847.1,919.9 L1847.5,919.0 L1848.0,913.2 L1848.4,918.2 L1848.8,918.3 L1849.2,920.7 L1849.7,918.1 L1850.1,917.0 L1850.5,921.5 L1850.9,920.0 L1851.3,918.0 L1851.8,918.4 L1852.2,919.5 L1852.6,922.2 L1853.0,923.7 L1853.5,917.2 L1853.9,923.1 L1854.3,920.4 L1854.7,921.2 L1855.2,922.7 L1855.6,918.1 L1856.0,922.4 L1856.4,917.3 L1856.9,919.3 L1857.3,918.4 L1857.7,924.5 L1858.1,924.4 L1858.6,922.3 L1859.0,921.8 L1859.4,919.3 L1859.8,924.7 L1860.3,923.9 L1860.7,922.8 L1861.1,920.4 L1861.5,919.8 L1862.0,920.5 L1862.4,923.9 L1862.8,918.4 L1863.2,921.0 L1863.7,924.6 L1864.1,922.9 L1864.5,925.0 L1864.9,921.8 L1865.4,921.9 L1865.8,924.2 L1866.2,922.5 L1866.6,921.7 L1867.1,919.7 L1867.5,917.4 L1867.9,924.6 L1868.3,920.0 L1868.7,919.3 L1869.2,923.2 L1869.6,919.0 L1870.0,918.0 L1870.4,919.9 L1870.9,921.1 L1871.3,921.9 L1871.7,922.6 L1872.1,923.7 L1872.6,921.2 L1873.0,922.4 L1873.4,921.3 L1873.8,920.1 L1874.3,922.6 L1874.7,922.5 L1875.1,926.2 L1875.5,923.2 L1876.0,920.2 L1876.4,923.3 L1876.8,921.4 L1877.2,925.8 L1877.7,918.1 L1878.1,920.6 L1878.5,920.7 L1878.9,922.6 L1879.4,922.0 L1879.8,918.6 L1880.2,918.0 L1880.6,922.9 L1881.1,926.0 L1881.5,926.1 L1881.9,921.7 L1882.3,923.8 L1882.8,920.7 L1883.2,919.4 L1883.6,925.7 L1884.0,924.5 L1884.5,922.1 L1884.9,922.1 L1885.3,925.2 L1885.7,923.8 L1886.1,922.2 L1886.6,923.7 L1887.0,923.1 L1887.4,922.1 L1887.8,921.4 L1888.3,925.3 L1888.7,922.0 L1889.1,920.3 L1889.5,927.4 L1890.0,926.1 L1890.4,924.3 L1890.8,922.9 L1891.2,923.5 L1891.7,919.6 L1892.1,923.0 L1892.5,923.6 L1892.9,922.5 L1893.4,923.9 L1893.8,921.0 L1894.2,923.2 L1894.6,919.0 L1895.1,922.6 L1895.5,921.2 L1895.9,919.4 L1896.3,921.5 L1896.8,922.5 L1897.2,920.9 L1897.6,924.4 L1898.0,920.5 L1898.5,924.3 L1898.9,923.7 L1899.3,920.5 L1899.7,925.2 L1900.2,918.5 L1900.6,922.9 L1901.0,921.7 L1901.4,923.3 L1901.9,917.7 L1902.3,918.4 L1902.7,919.2"/>
<path stroke="#990000" d="M205.1,675.7 L205.5,679.1 L205.9,680.8 L206.4,665.2 L206.8,688.5 L207.2,669.7 L207.6,694.8 L208.1,693.5 L208.5,696.3 L208.9,697.1 L209.3,693.9 L209.8,688.2 L210.2,690.8 L210.6,705.8 L211.0,690.3 L211.5,694.0 L211.9,691.1 L212.3,693.8 L212.7,696.5 L213.2,702.0 L213.6,698.9 L214.0,699.6 L214.4,698.8 L214.9,705.4 L215.3,695.5 L215.7,707.6 L216.1,718.5 L216.6,703.6 L217.0,710.4 L217.4,733.5 L217.8,705.3 L218.3,701.6 L218.7,711.8 L219.1,729.9 L219.5,732.6 L220.0,708.6 L220.4,723.1 L220.8,719.6 L221.2,715.8 L221.7,706.1 L222.1,729.5 L222.5,715.8 L222.9,725.3 L223.3,724.3 L223.8,738.5 L224.2,733.8 L224.6,716.7 L225.0,724.1 L225.5,734.5 L225.9,717.1 L226.3,724.9 L226.7,730.2 L227.2,716.8 L227.6,720.4 L228.0,717.5 L228.4,733.3 L228.9,727.6 L229.3,739.7 L229.7,734.3 L230.1,738.6 L230.6,734.6 L231.0,741.9 L231.4,736.5 L231.8,731.0 L232.3,748.4 L232.7,748.1 L233.1,759.0 L233.5,742.2 L234.0,740.2 L234.4,735.0 L234.8,724.7 L235.2,738.7 L235.7,753.4 L236.1,744.5 L236.5,733.1 L236.9,758.2 L237.4,750.5 L237.8,753.4 L238.2,754.0 L238.6,757.3 L239.1,762.9 L239.5,747.5 L239.9,759.6 L240.3,758.3 L240.7,771.2 L241.2,755.9 L241.6,776.3 L242.0,769.5 L242.4,777.6 L242.9,761.1 L243.3,772.9 L243.7,770.3 L244.1,757.2 L244.6,766.9 L245.0,766.1 L245.4,762.9 L245.8,764.9 L246.3,760.5 L246.7,768.2 L247.1,774.6 L247.5,766.9 L248.0,761.7 L248.4,781.3 L248.8,771.4 L249.2,774.9 L249.7,773.4 L250.1,771.7 L250.5,780.5 L250.9,772.7 L251.4,777.2 L251.8,766.9 L252.2,765.9 L252.6,775.4 L253.1,792.5 L253.5,780.3 L253.9,793.3 L254.3,782.9 L254.8,783.3 L255.2,776.1 L255.6,780.6 L256.0,794.2 L256.5,790.2 L256.9,777.5 L257.3,779.1 L257.7,792.8 L258.1,779.9 L258.6,790.9 L259.0,778.5 L259.4,790.5 L259.8,798.0 L260.3,794.1 L260.7,791.0 L261.1,791.5 L261.5,791.1 L262.0,792.8 L262.4,802.6 L262.8,803.6 L263.2,799.4 L263.7,788.4 L264.1,794.6 L264.5,801.1 L264.9,800.0 L265.4,790.6 L265.8,805.5 L266.2,819.8 L266.6,793.0 L267.1,802.7 L267.5,814.2 L267.9,800.1 L268.3,800.6 L268.8,805.1 L269.2,808.3 L269.6,801.7 L270.0,811.9 L270.5,791.8 L270.9,810.3 L271.3,808.7 L271.7,805.3 L272.2,809.6 L272.6,807.6 L273.0,817.1 L273.4,804.9 L273.9,808.4 L274.3,799.4 L274.7,801.8 L275.1,808.7 L275.6,800.0 L276.0,805.7 L276.4,803.1 L276.8,809.7 L277.2,814.8 L277.7,821.4 L278.1,801.9 L278.5,815.0 L278.9,823.3 L279.4,827.7 L279.8,828.7 L280.2,809.7 L280.6,817.0 L281.1,825.4 L281.5,828.8 L281.9,825.0 L282.3,825.7 L282.8,826.3 L283.2,820.0 L283.6,827.2 L284.0,832.4 L284.5,825.0 L284.9,836.2 L285.3,808.9 L285.7,826.9 L286.2,841.5 L286.6,836.3 L287.0,840.8 L287.4,832.4 L287.9,823.7 L288.3,828.8 L288.7,843.4 L289.1,820.7 L289.6,827.2 L290.0,822.5 L290.4,831.1 L290.8,832.4 L291.3,839.7 L291.7,830.5 L292.1,848.5 L292.5,841.6 L293.0,834.4 L293.4,831.3 L293.8,828.3 L294.2,840.0 L294.6,853.3 L295.1,839.0 L295.5,833.6 L295.9,840.8 L296.3,838.2 L296.8,836.1 L297.2,829.8 L297.6,842.9 L298.0,854.0 L298.5,852.8 L298.9,851.6 L299.3,846.9 L299.7,849.2 L300.2,853.4 L300.6,846.7 L301.0,849.5 L301.4,845.4 L301.9,856.3 L302.3,842.8 L302.7,854.2 L303.1,855.9 L303.6,856.3 L304.0,855.9 L304.4,848.4 L304.8,848.2 L305.3,849.7 L305.7,850.4 L306.1,845.7 L306.5,850.8 L307.0,849.9 L307.4,848.2 L307.8,857.5 L308.2,850.3 L308.7,857.5 L309.1,866.2 L309.5,868.1 L309.9,857.2 L310.4,864.4 L310.8,859.6 L311.2,874.4 L311.6,869.8 L312.0,866.6 L312.5,858.5 L312.9,858.3 L313.3,864.1 L313.7,860.6 L314.2,859.6 L314.6,866.4 L315.0,853.8 L315.4,849.2 L315.9,856.3 L316.3,855.8 L316.7,863.6 L317.1,858.8 L317.6,863.9 L318.0,852.2 L318.4,876.2 L318.8,869.5 L319.3,861.6 L319.7,870.1 L320.1,876.7 L320.5,874.7 L321.0,869.0 L321.4,874.2 L321.8,876.6 L322.2,863.1 L322.7,862.0 L323.1,868.2 L323.5,879.2 L323.9,882.9 L324.4,874.4 L324.8,884.0 L325.2,881.0 L325.6,874.3 L326.1,870.2 L326.5,871.3 L326.9,876.5 L327.3,885.7 L327.8,882.3 L328.2,868.4 L328.6,869.3 L329.0,883.3 L329.4,879.5 L329.9,872.3 L330.3,883.4 L330.7,888.3 L331.1,884.9 L331.6,880.6 L332.0,889.1 L332.4,878.0 L332.8,876.9 L333.3,875.0 L333.7,893.9 L334.1,895.7 L334.5,881.6 L335.0,886.0 L335.4,885.3 L335.8,888.7 L336.2,890.6 L336.7,887.4 L337.1,882.5 L337.5,879.8 L337.9,876.7 L338.4,866.3 L338.8,883.0 L339.2,878.3 L339.6,884.1 L340.1,883.4 L340.5,877.4 L340.9,881.0 L341.3,887.2 L341.8,885.8 L342.2,879.0 L342.6,880.0 L343.0,888.9 L343.5,886.9 L343.9,887.6 L344.3,884.7 L344.7,890.8 L345.2,886.8 L345.6,903.2 L346.0,883.9 L346.4,882.9 L346.8,898.8 L347.3,888.1 L347.7,884.0 L348.1,892.6 L348.5,875.1 L349.0,893.7 L349.4,891.4 L349.8,893.4 L350.2,886.6 L350.7,900.6 L351.1,894.2 L351.5,892.0 L351.9,894.5 L352.4,886.7 L352.8,891.3 L353.2,882.3 L353.6,884.9 L354.1,894.0 L354.5,892.8 L354.9,896.9 L355.3,887.7 L355.8,891.3 L356.2,887.6 L356.6,893.7 L357.0,897.1 L357.5,899.0 L357.9,895.7 L358.3,886.9 L358.7,893.4 L359.2,885.3 L359.6,879.5 L360.0,893.1 L360.4,892.5 L360.9,896.8 L361.3,897.3 L361.7,883.9 L362.1,886.1 L362.6,891.9 L363.0,892.4 L363.4,894.6 L363.8,883.4 L364.2,890.3 L364.7,896.1 L365.1,904.2 L365.5,883.7 L365.9,902.4 L366.4,890.0 L366.8,882.5 L367.2,900.5 L367.6,884.9 L368.1,884.3 L368.5,896.5 L368.9,898.6 L369.3,892.3 L369.8,887.2 L370.2,882.1 L370.6,892.5 L371.0,876.6 L371.5,882.4 L371.9,898.7 L372.3,895.8 L372.7,899.7 L373.2,894.4 L373.6,884.4 L374.0,894.8 L374.4,880.0 L374.9,896.3 L375.3,900.6 L375.7,885.2 L376.1,898.4 L376.6,892.0 L377.0,890.7 L377.4,878.9 L377.8,890.7 L378.3,897.4 L378.7,880.6 L379.1,888.6 L379.5,887.1 L380.0,881.1 L380.4,898.5 L380.8,891.8 L381.2,892.0 L381.7,898.1 L382.1,886.8 L382.5,911.4 L382.9,888.6 L383.3,884.0 L383.8,895.6 L384.2,893.9 L384.6,885.2 L385.0,885.5 L385.5,896.7 L385.9,893.2 L386.3,893.9 L386.7,896.8 L387.2,887.1 L387.6,899.1 L388.0,891.0 L388.4,895.4 L388.9,884.6 L389.3,895.4 L389.7,892.2 L390.1,906.4 L390.6,889.2 L391.0,900.0 L391.4,894.0 L391.8,900.0 L392.3,891.1 L392.7,892.5 L393.1,874.7 L393.5,880.5 L394.0,895.4 L394.4,891.0 L394.8,893.0 L395.2,885.9 L395.7,892.4 L396.1,884.6 L396.5,886.2 L396.9,894.1 L397.4,892.9 L397.8,882.6 L398.2,885.4 L398.6,886.2 L399.1,883.3 L399.5,883.2 L399.9,877.3 L400.3,886.8 L400.7,875.8 L401.2,876.0 L401.6,890.3 L402.0,893.6 L402.4,893.3 L402.9,883.2 L403.3,877.0 L403.7,885.0 L404.1,890.0 L404.6,880.2 L405.0,876.4 L405.4,867.7 L405.8,867.2 L406.3,889.2 L406.7,867.8 L407.1,872.6 L407.5,874.6 L408.0,877.7 L408.4,867.0 L408.8,878.8 L409.2,878.2 L409.7,874.3 L410.1,868.9 L410.5,869.6 L410.9,858.2 L411.4,873.9 L411.8,865.0 L412.2,858.1 L412.6,865.6 L413.1,867.9 L413.5,865.8 L413.9,866.5 L414.3,869.2 L414.8,857.1 L415.2,861.3 L415.6,861.4 L416.0,849.8 L416.5,866.4 L416.9,856.8 L417.3,860.2 L417.7,860.2 L418.1,852.7 L418.6,862.0 L419.0,861.6 L419.4,855.6 L419.8,841.0 L420.3,854.6 L420.7,848.2 L421.0,848.0 L421.5,847.7 L422.0,847.4 L422.4,851.6 L422.8,858.1 L423.2,849.3 L423.7,857.5 L424.1,852.7 L424.5,854.8 L424.9,854.0 L425.4,858.3 L425.8,862.7 L426.2,855.6 L426.6,861.4 L427.1,864.9 L427.5,844.9 L427.9,859.4 L428.3,851.7 L428.8,852.0 L429.2,859.3 L429.6,850.6 L430.0,847.4 L430.5,859.6 L430.9,857.6 L431.3,852.7 L431.7,868.4 L432.2,842.0 L432.6,836.8 L433.0,845.5 L433.4,838.2 L433.9,847.3 L434.3,839.7 L434.7,838.5 L435.1,841.3 L435.5,834.4 L436.0,826.0 L436.4,832.2 L436.8,838.9 L437.2,833.1 L437.7,832.2 L438.1,828.6 L438.5,818.8 L439.0,813.0 L439.4,812.4 L439.8,820.1 L440.2,830.5 L440.6,834.1 L441.1,833.9 L441.5,824.2 L441.9,833.4 L442.3,834.4 L442.8,837.7 L443.2,820.5 L443.6,824.0 L444.0,829.3 L444.5,828.7 L444.9,823.2 L445.3,830.3 L445.7,824.3 L446.2,833.5 L446.6,821.8 L447.0,826.0 L447.4,809.4 L447.9,824.7 L448.3,818.0 L448.7,826.8 L449.1,819.9 L449.6,828.8 L450.0,815.7 L450.4,808.5 L450.8,819.4 L451.3,820.9 L451.7,810.7 L452.1,805.9 L452.5,819.4 L452.9,820.6 L453.4,817.5 L453.8,812.1 L454.2,810.7 L454.6,821.3 L455.1,814.6 L455.5,801.7 L455.9,799.7 L456.3,810.8 L456.8,810.7 L457.2,800.4 L457.6,798.5 L458.0,809.8 L458.5,799.9 L458.9,807.2 L459.3,792.6 L459.7,792.5 L460.2,786.5 L460.6,797.6 L461.0,794.1 L461.4,784.2 L461.9,796.4 L462.3,790.7 L462.7,792.1 L463.1,802.9 L463.6,799.1 L464.0,794.9 L464.4,788.2 L464.8,781.3 L465.3,784.3 L465.7,785.6 L466.1,796.5 L466.5,779.9 L467.0,781.7 L467.4,784.5 L467.8,786.4 L468.2,790.2 L468.7,790.7 L469.1,778.6 L469.5,792.2 L469.9,781.5 L470.4,769.2 L470.8,766.1 L471.2,768.4 L471.6,767.9 L472.0,773.7 L472.5,760.3 L472.9,760.4 L473.3,756.8 L473.7,763.5 L474.2,749.4 L474.6,762.8 L475.0,751.5 L475.4,754.4 L475.9,757.9 L476.3,755.6 L476.7,772.8 L477.1,744.1 L477.6,734.1 L478.0,738.6 L478.4,753.3 L478.8,737.9 L479.3,752.4 L479.7,741.9 L480.1,747.9 L480.5,729.6 L481.0,747.7 L481.4,747.4 L481.8,730.5 L482.2,746.3 L482.7,755.0 L483.1,734.0 L483.5,725.7 L483.9,727.2 L484.4,728.4 L484.8,737.1 L485.2,742.1 L485.6,724.0 L486.1,724.3 L486.5,714.3 L486.9,719.8 L487.3,726.2 L487.8,706.2 L488.2,725.6 L488.6,726.0 L489.0,727.2 L489.4,712.5 L489.9,703.7 L490.3,712.4 L490.7,705.4 L491.1,698.6 L491.6,705.2 L492.0,699.1 L492.4,723.5 L492.8,713.3 L493.3,713.1 L493.7,696.6 L494.1,714.6 L494.5,699.9 L495.0,708.2 L495.4,692.5 L495.8,704.1 L496.2,685.0 L496.7,695.4 L497.1,693.7 L497.5,683.6 L497.9,693.2 L498.4,687.3 L498.8,687.4 L499.2,695.0 L499.6,698.1 L500.1,685.1 L500.5,695.4 L500.9,692.0 L501.3,688.7 L501.8,694.1 L502.2,668.5 L502.6,689.7 L503.0,681.0 L503.5,673.8 L503.9,674.5 L504.3,682.8 L504.7,683.2 L505.2,678.3 L505.6,662.4 L506.0,658.9 L506.4,669.9 L506.8,673.5 L507.3,662.0 L507.7,673.5 L508.1,670.4 L508.5,668.4 L509.0,657.5 L509.4,672.6 L509.8,669.5 L510.2,671.8 L510.7,663.1 L511.1,649.1 L511.5,661.4 L511.9,664.6 L512.4,655.7 L512.8,646.9 L513.2,659.9 L513.6,659.9 L514.1,644.0 L514.5,647.6 L514.9,641.2 L515.3,654.8 L515.8,653.1 L516.2,665.0 L516.6,643.1 L517.0,660.6 L517.5,647.5 L517.9,650.8 L518.3,638.1 L518.7,647.6 L519.2,642.5 L519.6,645.2 L520.0,646.8 L520.4,648.5 L520.9,650.6 L521.3,642.8 L521.7,634.9 L522.1,649.5 L522.6,640.9 L523.0,634.4 L523.4,649.5 L523.8,639.7 L524.2,642.3 L524.7,621.6 L525.1,629.4 L525.5,650.0 L525.9,636.7 L526.4,635.6 L526.8,625.0 L527.2,628.8 L527.6,632.2 L528.1,627.8 L528.5,626.8 L528.9,612.6 L529.3,619.7 L529.8,621.7 L530.2,629.3 L530.6,628.1 L531.0,623.0 L531.5,616.5 L531.9,615.9 L532.3,623.3 L532.7,609.6 L533.2,618.5 L533.6,617.4 L534.0,617.7 L534.4,633.4 L534.9,618.6 L535.3,627.0 L535.7,633.2 L536.1,624.6 L536.6,620.7 L537.0,610.9 L537.4,633.9 L537.8,612.4 L538.3,605.1 L538.7,626.4 L539.1,607.5 L539.5,606.5 L540.0,605.2 L540.4,606.0 L540.8,603.7 L541.2,619.3 L541.6,628.7 L542.1,636.3 L542.5,634.4 L542.9,634.0 L543.3,634.8 L543.8,650.1 L544.2,648.6 L544.6,639.6 L545.0,646.7 L545.5,635.8 L545.9,650.4 L546.3,638.7 L546.7,647.1 L547.2,647.3 L547.6,628.6 L548.0,656.4 L548.4,651.6 L548.9,646.5 L549.3,647.8 L549.7,653.5 L550.1,653.8 L550.6,659.5 L551.0,657.9 L551.4,662.2 L551.8,660.0 L552.3,647.7 L552.7,648.3 L553.1,663.6 L553.5,663.4 L554.0,660.6 L554.4,650.6 L554.8,655.3 L555.2,654.3 L555.7,665.0 L556.1,652.7 L556.5,647.0 L556.9,648.6 L557.4,652.6 L557.8,655.6 L558.2,634.0 L558.6,633.4 L559.0,611.0 L559.5,595.3 L559.9,577.0 L560.3,567.5 L560.7,555.4 L561.0,557.0 L561.6,567.7 L562.0,592.9 L562.4,608.5 L562.9,627.7 L563.3,637.7 L563.7,666.4 L564.1,671.2 L564.6,678.1 L565.0,684.2 L565.4,685.6 L565.8,689.5 L566.3,699.3 L566.7,693.7 L567.1,701.1 L567.5,721.4 L568.0,705.5 L568.4,706.2 L568.8,716.9 L569.2,704.4 L569.7,724.0 L570.1,715.0 L570.5,707.7 L570.9,717.0 L571.4,714.4 L571.8,726.5 L572.2,719.4 L572.6,730.0 L573.1,711.9 L573.5,724.8 L573.9,734.2 L574.3,735.5 L574.8,734.1 L575.2,741.1 L575.6,743.2 L576.0,739.3 L576.5,742.8 L576.9,749.8 L577.3,746.2 L577.7,727.9 L578.1,737.0 L578.6,745.6 L579.0,757.3 L579.4,754.5 L579.8,760.6 L580.3,764.9 L580.7,763.3 L581.1,754.2 L581.5,769.0 L582.0,754.7 L582.4,756.9 L582.8,764.8 L583.2,753.2 L583.7,783.5 L584.1,790.2 L584.5,773.6 L584.9,773.7 L585.4,763.0 L585.8,783.5 L586.2,776.3 L586.6,774.3 L587.1,774.7 L587.5,785.5 L587.9,786.5 L588.3,788.8 L588.8,787.2 L589.2,781.1 L589.6,805.5 L590.0,803.0 L590.5,795.1 L590.9,791.7 L591.3,796.3 L591.7,810.4 L592.2,811.3 L592.6,811.9 L593.0,820.5 L593.4,810.5 L593.9,826.5 L594.3,819.9 L594.7,815.7 L595.1,826.6 L595.5,827.5 L596.0,822.8 L596.4,842.2 L596.8,820.8 L597.2,836.1 L597.7,839.3 L598.1,833.7 L598.5,840.8 L598.9,851.2 L599.4,836.6 L599.8,838.6 L600.2,845.3 L600.6,852.7 L601.1,858.5 L601.5,856.5 L601.9,846.7 L602.3,863.3 L602.8,862.2 L603.2,866.0 L603.6,849.7 L604.0,851.1 L604.5,859.6 L604.9,862.9 L605.3,867.6 L605.7,862.2 L606.2,864.2 L606.6,875.9 L607.0,861.0 L607.4,869.1 L607.9,878.8 L608.3,885.4 L608.7,884.2 L609.1,894.6 L609.6,888.1 L610.0,892.5 L610.4,894.9 L610.8,891.7 L611.3,884.7 L611.7,893.1 L612.1,895.3 L612.5,892.7 L612.9,904.3 L613.4,898.3 L613.8,893.9 L614.2,905.0 L614.6,900.3 L615.1,911.7 L615.5,893.5 L615.9,901.0 L616.3,913.4 L616.8,916.5 L617.2,917.1 L617.6,927.8 L618.0,918.4 L618.5,918.4 L618.9,928.4 L619.3,922.9 L619.7,929.0 L620.2,935.9 L620.6,928.7 L621.0,930.6 L621.4,929.0 L621.9,936.5 L622.3,939.3 L622.7,943.2 L623.1,942.2 L623.6,951.5 L624.0,941.4 L624.4,942.4 L624.8,941.0 L625.3,951.6 L625.7,945.4 L626.1,944.3 L626.5,939.2 L627.0,947.4 L627.4,954.4 L627.8,934.9 L628.2,944.9 L628.7,947.2 L629.1,949.1 L629.5,955.5 L629.9,954.2 L630.3,958.6 L630.8,960.8 L631.2,968.4 L631.6,960.3 L632.0,965.1 L632.5,963.1 L632.9,966.7 L633.3,965.0 L633.7,961.6 L634.2,972.0 L634.6,977.3 L635.0,966.8 L635.4,973.4 L635.9,974.7 L636.3,964.0 L636.7,988.9 L637.1,987.4 L637.6,987.1 L638.0,987.4 L638.4,978.0 L638.8,970.1 L639.3,985.0 L639.7,987.0 L640.1,986.0 L640.5,986.0 L641.0,995.1 L641.4,994.8 L641.8,991.1 L642.2,989.2 L642.7,1005.7 L643.1,998.3 L643.5,994.9 L643.9,987.7 L644.4,987.0 L644.8,980.8 L645.2,995.7 L645.6,999.5 L646.1,997.5 L646.5,999.2 L646.9,1001.2 L647.3,1005.2 L647.7,991.3 L648.2,995.0 L648.6,1007.7 L649.0,1005.0 L649.4,1007.0 L649.9,999.3 L650.3,1014.1 L650.7,1007.1 L651.1,1005.8 L651.6,1003.0 L652.0,1009.7 L652.4,1010.3 L652.8,1009.5 L653.3,1019.8 L653.7,1018.2 L654.1,1012.3 L654.5,1009.9 L655.0,1011.4 L655.4,1016.5 L655.8,1000.0 L656.2,1017.8 L656.7,1015.6 L657.1,1029.3 L657.5,1020.8 L657.9,1018.2 L658.4,1020.2 L658.8,1017.2 L659.2,1017.6 L659.6,1021.8 L660.1,1012.0 L660.5,1023.7 L660.9,1015.3 L661.3,1021.3 L661.8,1022.0 L662.2,1030.5 L662.6,1036.0 L663.0,1035.9 L663.5,1026.3 L663.9,1028.4 L664.3,1030.6 L664.7,1031.9 L665.1,1037.8 L665.6,1036.2 L666.0,1033.2 L666.4,1044.3 L666.8,1039.5 L667.3,1045.3 L667.7,1035.9 L668.1,1040.0 L668.5,1039.4 L669.0,1039.3 L669.4,1033.4 L669.8,1041.0 L670.2,1032.5 L670.7,1043.0 L671.1,1050.7 L671.5,1048.1 L671.9,1044.2 L672.4,1041.6 L672.8,1047.6 L673.2,1038.5 L673.6,1038.0 L674.1,1037.9 L674.5,1047.2 L674.9,1038.6 L675.3,1049.0 L675.8,1051.6 L676.2,1050.2 L676.6,1046.3 L677.0,1049.4 L677.5,1041.2 L677.9,1048.8 L678.3,1056.9 L678.7,1056.0 L679.2,1040.3 L679.6,1048.5 L680.0,1047.4 L680.4,1054.2 L680.9,1051.1 L681.3,1049.4 L681.7,1046.7 L682.1,1051.1 L682.6,1049.7 L683.0,1051.0 L683.4,1050.1 L683.8,1044.6 L684.2,1053.4 L684.7,1053.8 L685.1,1052.7 L685.5,1053.1 L685.9,1058.3 L686.4,1057.8 L686.8,1061.0 L687.2,1056.2 L687.6,1057.2 L688.1,1053.3 L688.5,1047.8 L688.9,1047.4 L689.3,1056.5 L689.8,1054.8 L690.2,1057.3 L690.6,1042.8 L691.0,1054.0 L691.5,1056.1 L691.9,1054.0 L692.3,1054.9 L692.7,1047.4 L693.2,1056.6 L693.6,1064.1 L694.0,1052.1 L694.4,1061.3 L694.9,1055.2 L695.3,1060.3 L695.7,1067.3 L696.1,1060.6 L696.6,1062.7 L697.0,1064.6 L697.4,1061.5 L697.8,1068.6 L698.3,1052.2 L698.7,1061.3 L699.1,1053.5 L699.5,1055.9 L700.0,1064.1 L700.4,1058.3 L700.8,1062.9 L701.2,1072.3 L701.6,1068.6 L702.1,1081.9 L702.5,1066.1 L702.9,1067.5 L703.3,1054.9 L703.8,1067.9 L704.2,1066.2 L704.6,1071.4 L705.0,1069.7 L705.5,1066.8 L705.9,1060.7 L706.3,1075.1 L706.7,1068.3 L707.2,1063.8 L707.6,1075.2 L708.0,1063.8 L708.4,1071.5 L708.9,1064.9 L709.3,1074.6 L709.7,1068.2 L710.1,1092.1 L710.6,1083.8 L711.0,1081.1 L711.4,1081.1 L711.8,1083.2 L712.3,1084.7 L712.7,1082.3 L713.1,1075.9 L713.5,1082.6 L714.0,1074.4 L714.4,1080.8 L714.8,1085.0 L715.2,1077.9 L715.7,1085.9 L716.1,1081.6 L716.5,1096.3 L716.9,1082.8 L717.4,1087.5 L717.8,1088.4 L718.2,1086.3 L718.6,1087.5 L719.0,1084.9 L719.5,1087.2 L719.9,1087.6 L720.3,1091.1 L720.7,1093.6 L721.2,1087.5 L721.6,1094.8 L722.0,1088.0 L722.4,1083.6 L722.9,1086.4 L723.3,1085.4 L723.7,1087.8 L724.1,1089.5 L724.6,1090.4 L725.0,1095.3 L725.4,1093.4 L725.8,1087.7 L726.3,1092.7 L726.7,1089.8 L727.1,1094.2 L727.5,1096.6 L728.0,1090.1 L728.4,1094.6 L728.8,1097.8 L729.2,1093.0 L729.7,1085.9 L730.1,1090.9 L730.5,1087.2 L730.9,1096.7 L731.4,1092.9 L731.8,1093.7 L732.2,1101.0 L732.6,1096.1 L733.1,1093.2 L733.5,1083.8 L733.9,1090.2 L734.3,1089.5 L734.8,1092.1 L735.2,1087.1 L735.6,1096.4 L736.0,1099.6 L736.4,1091.8 L736.9,1086.5 L737.3,1094.3 L737.7,1092.8 L738.1,1098.9 L738.6,1093.9 L739.0,1090.6 L739.4,1087.6 L739.8,1094.4 L740.3,1083.2 L740.7,1089.1 L741.1,1097.6 L741.5,1093.3 L742.0,1093.6 L742.4,1092.3 L742.8,1086.6 L743.2,1090.1 L743.7,1092.4 L744.1,1090.8 L744.5,1082.8 L744.9,1083.9 L745.4,1082.8 L745.8,1077.3 L746.2,1076.3 L746.6,1071.4 L747.0,1071.0 L747.5,1072.5 L747.9,1076.0 L748.3,1081.4 L748.8,1085.5 L749.2,1093.0 L749.6,1093.7 L750.0,1095.2 L750.5,1094.6 L750.9,1097.7 L751.3,1106.1 L751.7,1110.2 L752.2,1104.4 L752.6,1104.7 L753.0,1103.7 L753.4,1106.5 L753.8,1106.2 L754.3,1104.2 L754.7,1111.2 L755.1,1102.1 L755.5,1108.2 L756.0,1108.6 L756.4,1111.1 L756.8,1107.4 L757.2,1103.8 L757.7,1108.0 L758.1,1103.7 L758.5,1107.0 L758.9,1105.2 L759.4,1120.4 L759.8,1098.7 L760.2,1103.4 L760.6,1115.0 L761.1,1108.3 L761.5,1102.8 L761.9,1112.4 L762.3,1119.5 L762.8,1109.8 L763.2,1113.8 L763.6,1103.5 L764.0,1107.1 L764.5,1110.9 L764.9,1110.8 L765.3,1106.8 L765.7,1107.3 L766.2,1107.1 L766.6,1106.3 L767.0,1107.3 L767.4,1107.0 L767.9,1111.2 L768.3,1102.4 L768.7,1109.8 L769.1,1113.3 L769.6,1104.6 L770.0,1099.4 L770.4,1094.3 L770.8,1091.4 L771.2,1087.6 L771.5,1089.0 L772.1,1092.1 L772.5,1099.0 L772.9,1102.7 L773.4,1108.7 L773.8,1114.8 L774.2,1115.1 L774.6,1124.8 L775.1,1119.3 L775.5,1113.4 L775.9,1119.2 L776.3,1120.9 L776.8,1118.8 L777.2,1122.4 L777.6,1122.4 L778.0,1126.6 L778.5,1120.5 L778.9,1117.3 L779.3,1120.1 L779.7,1113.6 L780.2,1110.5 L780.6,1118.3 L781.0,1121.1 L781.4,1120.7 L781.9,1129.7 L782.3,1119.5 L782.7,1119.3 L783.1,1134.4 L783.6,1118.5 L784.0,1129.5 L784.4,1125.7 L784.8,1114.8 L785.3,1131.4 L785.7,1125.6 L786.1,1129.1 L786.5,1128.6 L787.0,1129.4 L787.4,1132.2 L787.8,1138.2 L788.2,1129.7 L788.7,1127.7 L789.1,1132.9 L789.5,1131.0 L789.9,1117.4 L790.3,1131.2 L790.8,1127.5 L791.2,1128.3 L791.6,1122.8 L792.0,1138.3 L792.5,1132.0 L792.9,1127.7 L793.3,1127.9 L793.7,1129.1 L794.2,1129.6 L794.6,1133.8 L795.0,1132.1 L795.4,1128.1 L795.9,1129.4 L796.3,1133.4 L796.7,1126.3 L797.1,1129.0 L797.6,1135.4 L798.0,1131.2 L798.4,1138.0 L798.8,1126.5 L799.3,1129.9 L799.7,1128.5 L800.1,1128.5 L800.5,1136.2 L801.0,1137.9 L801.4,1133.8 L801.8,1133.1 L802.2,1142.1 L802.7,1141.6 L803.1,1125.2 L803.5,1134.5 L803.9,1125.9 L804.4,1128.3 L804.8,1132.6 L805.2,1130.5 L805.6,1138.6 L806.1,1134.2 L806.5,1135.1 L806.9,1135.9 L807.3,1144.2 L807.7,1137.7 L808.2,1140.5 L808.6,1138.7 L809.0,1141.8 L809.4,1136.5 L809.9,1136.0 L810.3,1142.1 L810.7,1137.0 L811.1,1129.0 L811.6,1130.5 L812.0,1134.2 L812.4,1138.3 L812.8,1132.5 L813.3,1142.8 L813.7,1137.8 L814.1,1134.7 L814.5,1130.3 L815.0,1138.9 L815.4,1138.5 L815.8,1130.4 L816.2,1141.5 L816.7,1141.0 L817.1,1142.1 L817.5,1135.2 L817.9,1139.5 L818.4,1125.9 L818.8,1137.0 L819.2,1133.1 L819.6,1134.4 L820.1,1136.7 L820.5,1131.3 L820.9,1133.5 L821.3,1129.6 L821.8,1130.3 L822.2,1128.7 L822.6,1135.1 L823.0,1139.1 L823.5,1128.8 L823.9,1125.8 L824.3,1131.9 L824.7,1134.5 L825.1,1133.7 L825.6,1127.1 L826.0,1132.3 L826.4,1128.4 L826.8,1130.2 L827.3,1131.5 L827.7,1130.1 L828.1,1134.1 L828.5,1129.7 L829.0,1138.9 L829.4,1132.5 L829.8,1126.9 L830.2,1136.5 L830.7,1135.9 L831.1,1133.2 L831.5,1132.0 L831.9,1133.6 L832.4,1135.9 L832.8,1131.5 L833.2,1135.8 L833.6,1129.4 L834.1,1134.3 L834.5,1127.5 L834.9,1133.6 L835.3,1134.6 L835.8,1129.6 L836.2,1133.7 L836.6,1123.6 L837.0,1131.6 L837.5,1130.9 L837.9,1134.9 L838.3,1131.9 L838.7,1136.7 L839.2,1140.7 L839.6,1132.7 L840.0,1136.3 L840.4,1140.0 L840.9,1136.8 L841.3,1137.6 L841.7,1131.8 L842.1,1134.7 L842.5,1128.5 L843.0,1137.0 L843.4,1135.1 L843.8,1135.1 L844.2,1124.8 L844.7,1137.2 L845.1,1138.6 L845.5,1136.9 L845.9,1131.4 L846.4,1134.1 L846.8,1127.0 L847.2,1122.7 L847.6,1124.6 L848.1,1121.1 L848.5,1132.0 L848.9,1112.6 L849.3,1124.6 L849.8,1119.4 L850.2,1120.5 L850.6,1126.1 L851.0,1122.3 L851.5,1127.5 L851.9,1121.7 L852.3,1121.6 L852.7,1122.4 L853.2,1127.5 L853.6,1118.6 L854.0,1120.2 L854.4,1118.9 L854.9,1119.2 L855.3,1115.6 L855.7,1119.6 L856.1,1122.9 L856.6,1127.1 L857.0,1122.7 L857.4,1117.7 L857.8,1126.8 L858.3,1112.1 L858.7,1122.0 L859.1,1114.0 L859.5,1118.7 L859.9,1113.0 L860.4,1111.9 L860.8,1116.2 L861.2,1126.6 L861.6,1119.9 L862.1,1122.1 L862.5,1116.3 L862.9,1117.7 L863.3,1113.8 L863.8,1114.4 L864.2,1115.3 L864.6,1120.9 L865.0,1117.8 L865.5,1112.6 L865.9,1114.9 L866.3,1111.4 L866.7,1117.6 L867.2,1116.0 L867.6,1115.6 L868.0,1117.4 L868.4,1116.3 L868.9,1120.1 L869.3,1109.5 L869.7,1115.9 L870.1,1111.2 L870.6,1115.8 L871.0,1108.6 L871.4,1102.7 L871.8,1107.8 L872.3,1106.2 L872.7,1103.5 L873.1,1106.1 L873.5,1112.6 L874.0,1105.0 L874.4,1109.1 L874.8,1111.7 L875.2,1109.4 L875.7,1106.1 L876.1,1107.6 L876.5,1100.6 L876.9,1095.8 L877.3,1094.2 L877.8,1105.1 L878.2,1106.5 L878.6,1098.0 L879.0,1098.9 L879.5,1087.3 L879.9,1101.0 L880.3,1096.5 L880.7,1087.5 L881.2,1098.1 L881.6,1098.0 L882.0,1098.5 L882.4,1093.3 L882.9,1094.5 L883.3,1088.4 L883.7,1098.7 L884.1,1089.7 L884.6,1096.8 L885.0,1092.7 L885.4,1088.3 L885.8,1095.1 L886.3,1084.9 L886.7,1089.2 L887.1,1087.4 L887.5,1085.3 L888.0,1086.1 L888.4,1087.9 L888.8,1081.8 L889.2,1080.5 L889.7,1081.1 L890.1,1078.6 L890.5,1075.6 L890.9,1081.0 L891.4,1070.3 L891.8,1077.6 L892.2,1074.9 L892.6,1077.2 L893.1,1077.9 L893.5,1076.2 L893.9,1074.2 L894.3,1080.2 L894.8,1070.4 L895.2,1066.5 L895.6,1070.7 L896.0,1074.8 L896.4,1079.7 L896.9,1080.6 L897.3,1071.6 L897.7,1075.1 L898.1,1076.9 L898.6,1066.0 L899.0,1075.3 L899.4,1069.6 L899.8,1066.3 L900.3,1069.2 L900.7,1069.2 L901.1,1055.4 L901.5,1065.3 L902.0,1065.5 L902.4,1060.4 L902.8,1064.2 L903.2,1060.8 L903.7,1058.1 L904.1,1060.9 L904.5,1050.8 L904.9,1062.3 L905.4,1062.2 L905.8,1060.4 L906.2,1060.9 L906.6,1055.2 L907.1,1053.9 L907.5,1047.1 L907.9,1046.6 L908.3,1051.0 L908.8,1058.9 L909.2,1053.6 L909.6,1060.1 L910.0,1056.8 L910.5,1047.2 L910.9,1049.1 L911.3,1046.3 L911.7,1044.2 L912.2,1052.8 L912.6,1055.0 L913.0,1046.9 L913.4,1057.1 L913.8,1056.3 L914.3,1049.1 L914.7,1054.0 L915.1,1047.6 L915.5,1052.9 L916.0,1055.9 L916.4,1044.1 L916.8,1061.5 L917.2,1045.7 L917.7,1055.3 L918.1,1052.8 L918.5,1060.2 L918.9,1051.7 L919.4,1054.1 L919.8,1072.6 L920.2,1066.3 L920.6,1062.5 L921.1,1054.8 L921.5,1060.6 L921.9,1050.8 L922.3,1055.6 L922.8,1062.1 L923.2,1064.3 L923.6,1058.8 L924.0,1064.6 L924.5,1065.5 L924.9,1056.5 L925.3,1063.1 L925.7,1061.9 L926.2,1069.8 L926.6,1056.5 L927.0,1065.4 L927.4,1062.6 L927.9,1074.1 L928.3,1052.4 L928.7,1073.0 L929.1,1063.8 L929.6,1067.8 L930.0,1057.8 L930.4,1059.1 L930.8,1064.8 L931.2,1066.8 L931.7,1054.4 L932.1,1063.8 L932.5,1065.3 L932.9,1067.2 L933.4,1071.8 L933.8,1070.4 L934.2,1068.0 L934.6,1063.5 L935.1,1062.0 L935.5,1071.2 L935.9,1078.6 L936.3,1071.7 L936.8,1076.9 L937.2,1067.0 L937.6,1077.9 L938.0,1072.8 L938.5,1074.9 L938.9,1078.2 L939.3,1079.3 L939.7,1077.3 L940.2,1078.5 L940.6,1078.7 L941.0,1074.1 L941.4,1076.6 L941.9,1078.8 L942.3,1087.4 L942.7,1073.9 L943.1,1080.8 L943.6,1085.8 L944.0,1084.8 L944.4,1077.4 L944.8,1076.3 L945.3,1080.4 L945.7,1085.1 L946.1,1088.2 L946.5,1083.7 L947.0,1085.9 L947.4,1084.0 L947.8,1082.4 L948.2,1093.0 L948.6,1096.2 L949.1,1087.5 L949.5,1084.8 L949.9,1092.5 L950.3,1082.8 L950.8,1084.0 L951.2,1091.8 L951.6,1100.5 L952.0,1090.3 L952.5,1093.1 L952.9,1100.8 L953.3,1088.2 L953.7,1086.9 L954.2,1105.5 L954.6,1100.5 L955.0,1094.3 L955.4,1099.2 L955.9,1101.7 L956.3,1096.6 L956.7,1110.5 L957.1,1091.1 L957.6,1107.3 L958.0,1102.0 L958.4,1101.5 L958.8,1102.5 L959.3,1098.7 L959.7,1101.4 L960.1,1100.5 L960.5,1096.5 L961.0,1106.7 L961.4,1098.1 L961.8,1100.4 L962.2,1114.8 L962.7,1103.6 L963.1,1113.9 L963.5,1113.4 L963.9,1108.7 L964.4,1115.6 L964.8,1106.1 L965.2,1105.1 L965.6,1107.6 L966.0,1108.7 L966.5,1113.2 L966.9,1120.6 L967.3,1107.9 L967.7,1111.0 L968.2,1112.7 L968.6,1114.5 L969.0,1112.2 L969.4,1120.6 L969.9,1112.7 L970.3,1110.6 L970.7,1123.2 L971.1,1122.4 L971.6,1116.1 L972.0,1112.5 L972.4,1117.8 L972.8,1120.8 L973.3,1125.1 L973.7,1126.0 L974.1,1117.4 L974.5,1119.5 L975.0,1118.6 L975.4,1120.1 L975.8,1118.1 L976.2,1118.8 L976.7,1120.1 L977.1,1121.7 L977.5,1113.0 L977.9,1119.9 L978.4,1125.4 L978.8,1124.3 L979.2,1125.6 L979.6,1126.0 L980.1,1125.2 L980.5,1127.7 L980.9,1123.2 L981.3,1117.5 L981.8,1129.0 L982.2,1125.0 L982.6,1115.5 L983.0,1127.4 L983.4,1127.2 L983.9,1117.6 L984.3,1125.7 L984.7,1123.5 L985.1,1125.5 L985.6,1121.2 L986.0,1131.6 L986.4,1119.6 L986.8,1119.2 L987.3,1122.0 L987.7,1123.9 L988.1,1121.5 L988.5,1131.1 L989.0,1119.7 L989.4,1135.1 L989.8,1118.0 L990.2,1126.7 L990.7,1132.8 L991.1,1135.7 L991.5,1124.3 L991.9,1118.7 L992.4,1122.5 L992.8,1123.8 L993.2,1129.5 L993.6,1122.4 L994.1,1131.5 L994.5,1123.3 L994.9,1131.7 L995.3,1140.0 L995.8,1132.3 L996.2,1134.7 L996.6,1130.7 L997.0,1128.8 L997.5,1133.0 L997.9,1133.8 L998.3,1118.5 L998.7,1128.3 L999.2,1141.7 L999.6,1135.3 L1000.0,1133.8 L1000.4,1131.5 L1000.9,1131.8 L1001.3,1133.1 L1001.7,1120.0 L1002.1,1142.0 L1002.5,1136.2 L1003.0,1131.2 L1003.4,1140.9 L1003.8,1134.6 L1004.2,1141.8 L1004.7,1132.9 L1005.1,1139.6 L1005.5,1128.7 L1005.9,1140.2 L1006.4,1129.8 L1006.8,1136.9 L1007.2,1138.9 L1007.6,1130.0 L1008.1,1138.1 L1008.5,1135.8 L1008.9,1138.6 L1009.3,1142.7 L1009.8,1138.6 L1010.2,1144.5 L1010.6,1135.5 L1011.0,1135.2 L1011.5,1144.0 L1011.9,1135.4 L1012.3,1142.0 L1012.7,1136.9 L1013.2,1140.7 L1013.6,1143.1 L1014.0,1138.3 L1014.4,1138.9 L1014.9,1135.9 L1015.3,1146.3 L1015.7,1139.0 L1016.1,1139.1 L1016.6,1143.3 L1017.0,1142.4 L1017.4,1140.7 L1017.8,1146.0 L1018.3,1145.4 L1018.7,1142.2 L1019.1,1143.4 L1019.5,1151.5 L1019.9,1146.7 L1020.4,1144.3 L1020.8,1146.5 L1021.2,1149.6 L1021.6,1156.0 L1022.1,1142.9 L1022.5,1150.3 L1022.9,1146.4 L1023.3,1150.5 L1023.8,1147.2 L1024.2,1146.8 L1024.6,1147.1 L1025.0,1148.6 L1025.5,1152.4 L1025.9,1159.8 L1026.3,1147.6 L1026.7,1148.8 L1027.2,1150.7 L1027.6,1159.7 L1028.0,1159.8 L1028.4,1159.8 L1028.9,1156.4 L1029.3,1154.3 L1029.7,1149.5 L1030.1,1155.1 L1030.6,1156.3 L1031.0,1153.3 L1031.4,1152.6 L1031.8,1150.4 L1032.3,1157.4 L1032.7,1155.3 L1033.1,1159.9 L1033.5,1153.3 L1034.0,1153.6 L1034.4,1161.4 L1034.8,1156.8 L1035.2,1149.9 L1035.7,1153.5 L1036.1,1152.4 L1036.5,1156.0 L1036.9,1148.9 L1037.3,1159.9 L1037.8,1160.0 L1038.2,1156.8 L1038.6,1157.0 L1039.0,1157.1 L1039.5,1155.5 L1039.9,1162.4 L1040.3,1153.6 L1040.7,1168.1 L1041.2,1153.5 L1041.6,1159.4 L1042.0,1154.3 L1042.4,1155.2 L1042.9,1157.9 L1043.3,1152.3 L1043.7,1161.2 L1044.1,1159.8 L1044.6,1161.5 L1045.0,1162.4 L1045.4,1156.0 L1045.8,1158.7 L1046.3,1158.7 L1046.7,1164.5 L1047.1,1159.4 L1047.5,1156.4 L1048.0,1161.6 L1048.4,1158.5 L1048.8,1164.0 L1049.2,1166.3 L1049.7,1164.8 L1050.1,1157.5 L1050.5,1164.7 L1050.9,1157.3 L1051.4,1159.6 L1051.8,1165.3 L1052.2,1162.3 L1052.6,1169.2 L1053.1,1165.0 L1053.5,1162.4 L1053.9,1166.3 L1054.3,1162.0 L1054.7,1166.7 L1055.2,1152.4 L1055.6,1160.3 L1056.0,1156.4 L1056.4,1157.8 L1056.9,1154.5 L1057.3,1157.4 L1057.7,1151.3 L1058.2,1149.0 L1058.6,1151.4 L1059.0,1148.0 L1059.4,1159.8 L1059.8,1152.3 L1060.3,1161.2 L1060.7,1169.4 L1061.1,1158.4 L1061.5,1159.9 L1062.0,1154.8 L1062.4,1156.6 L1062.8,1165.6 L1063.2,1165.4 L1063.7,1163.0 L1064.1,1166.6 L1064.5,1163.3 L1064.9,1161.6 L1065.4,1163.8 L1065.8,1160.6 L1066.2,1156.0 L1066.6,1164.7 L1067.1,1167.6 L1067.5,1171.0 L1067.9,1168.8 L1068.3,1165.0 L1068.8,1162.9 L1069.2,1166.1 L1069.6,1168.0 L1070.0,1166.5 L1070.5,1164.7 L1070.9,1168.5 L1071.3,1157.4 L1071.7,1169.9 L1072.1,1174.5 L1072.6,1162.2 L1073.0,1170.1 L1073.4,1166.0 L1073.8,1164.6 L1074.3,1170.8 L1074.7,1170.7 L1075.1,1167.5 L1075.5,1175.7 L1076.0,1170.7 L1076.4,1161.0 L1076.8,1175.2 L1077.2,1169.4 L1077.7,1175.7 L1078.1,1165.0 L1078.5,1165.5 L1078.9,1167.5 L1079.4,1171.0 L1079.8,1172.8 L1080.2,1166.7 L1080.6,1182.4 L1081.1,1166.2 L1081.5,1168.6 L1081.9,1178.9 L1082.3,1178.4 L1082.8,1177.1 L1083.2,1172.5 L1083.6,1171.6 L1084.0,1180.6 L1084.5,1166.1 L1084.9,1169.1 L1085.3,1171.9 L1085.7,1172.8 L1086.2,1176.5 L1086.6,1172.7 L1087.0,1173.7 L1087.4,1174.6 L1087.9,1171.6 L1088.3,1174.0 L1088.7,1168.4 L1089.1,1169.5 L1089.5,1173.5 L1090.0,1172.2 L1090.4,1176.3 L1090.8,1174.1 L1091.2,1175.2 L1091.7,1178.2 L1092.1,1167.2 L1092.5,1169.9 L1092.9,1173.3 L1093.4,1182.2 L1093.8,1173.2 L1094.2,1182.5 L1094.6,1179.4 L1095.1,1175.9 L1095.5,1177.3 L1095.9,1178.1 L1096.3,1174.1 L1096.8,1182.0 L1097.2,1178.0 L1097.6,1176.3 L1098.0,1173.9 L1098.5,1178.8 L1098.9,1179.0 L1099.3,1180.2 L1099.7,1186.2 L1100.2,1179.5 L1100.6,1174.5 L1101.0,1174.4 L1101.4,1172.1 L1101.9,1173.3 L1102.3,1172.0 L1102.7,1181.2 L1103.1,1168.3 L1103.6,1183.2 L1104.0,1174.9 L1104.4,1171.9 L1104.8,1174.1 L1105.3,1177.3 L1105.7,1177.7 L1106.1,1175.5 L1106.5,1181.8 L1107.0,1172.3 L1107.4,1173.8 L1107.8,1180.6 L1108.2,1172.4 L1108.6,1174.6 L1109.1,1180.0 L1109.5,1180.3 L1109.9,1180.3 L1110.3,1180.7 L1110.8,1178.0 L1111.2,1178.9 L1111.6,1178.8 L1112.0,1178.1 L1112.5,1182.3 L1112.9,1178.7 L1113.3,1182.3 L1113.7,1179.0 L1114.2,1182.8 L1114.6,1169.9 L1115.0,1187.7 L1115.4,1176.2 L1115.9,1178.6 L1116.3,1178.2 L1116.7,1188.0 L1117.1,1174.8 L1117.6,1179.5 L1118.0,1179.9 L1118.4,1190.7 L1118.8,1187.0 L1119.3,1178.0 L1119.7,1180.6 L1120.1,1182.4 L1120.5,1178.9 L1121.0,1187.9 L1121.4,1183.5 L1121.8,1175.6 L1122.2,1182.8 L1122.7,1182.4 L1123.1,1180.8 L1123.5,1183.8 L1123.9,1185.8 L1124.4,1182.0 L1124.8,1180.6 L1125.2,1184.7 L1125.6,1176.4 L1126.0,1187.4 L1126.5,1178.2 L1126.9,1184.2 L1127.3,1183.0 L1127.7,1186.0 L1128.2,1181.6 L1128.6,1185.5 L1129.0,1177.4 L1129.4,1189.6 L1129.9,1186.3 L1130.3,1187.9 L1130.7,1182.0 L1131.1,1185.1 L1131.6,1182.4 L1132.0,1184.0 L1132.4,1179.7 L1132.8,1183.8 L1133.3,1173.6 L1133.7,1188.5 L1134.1,1179.1 L1134.5,1187.6 L1135.0,1189.6 L1135.4,1186.9 L1135.8,1179.5 L1136.2,1185.4 L1136.7,1187.0 L1137.1,1187.2 L1137.5,1185.8 L1137.9,1184.4 L1138.4,1182.9 L1138.8,1183.1 L1139.2,1184.8 L1139.6,1183.8 L1140.1,1182.9 L1140.5,1182.7 L1140.9,1184.3 L1141.3,1181.8 L1141.8,1187.9 L1142.2,1184.5 L1142.6,1189.1 L1143.0,1181.6 L1143.4,1181.1 L1143.9,1182.7 L1144.3,1184.6 L1144.7,1185.3 L1145.1,1189.4 L1145.6,1177.5 L1146.0,1187.0 L1146.4,1179.7 L1146.8,1182.7 L1147.3,1185.9 L1147.7,1187.1 L1148.1,1192.4 L1148.5,1186.4 L1149.0,1192.4 L1149.4,1190.2 L1149.8,1187.1 L1150.2,1191.6 L1150.7,1186.3 L1151.1,1190.3 L1151.5,1195.7 L1151.9,1190.9 L1152.4,1187.9 L1152.8,1185.4 L1153.2,1186.8 L1153.6,1185.3 L1154.1,1194.8 L1154.5,1190.9 L1154.9,1188.0 L1155.3,1189.1 L1155.8,1194.9 L1156.2,1186.0 L1156.6,1185.4 L1157.0,1192.7 L1157.5,1189.3 L1157.9,1182.1 L1158.3,1188.5 L1158.7,1185.8 L1159.2,1184.8 L1159.6,1184.1 L1160.0,1183.6 L1160.4,1186.0 L1160.8,1188.7 L1161.3,1181.6 L1161.7,1187.2 L1162.1,1179.4 L1162.5,1184.4 L1163.0,1189.4 L1163.4,1185.6 L1163.8,1184.4 L1164.2,1191.9 L1164.7,1188.4 L1165.1,1187.5 L1165.5,1188.8 L1165.9,1181.6 L1166.4,1185.8 L1166.8,1194.3 L1167.2,1190.4 L1167.6,1194.2 L1168.1,1184.3 L1168.5,1186.5 L1168.9,1191.6 L1169.3,1192.1 L1169.8,1180.8 L1170.2,1189.1 L1170.6,1188.1 L1171.0,1186.8 L1171.5,1190.8 L1171.9,1185.8 L1172.3,1190.8 L1172.7,1191.7 L1173.2,1187.1 L1173.6,1189.5 L1174.0,1180.2 L1174.4,1191.4 L1174.9,1189.5 L1175.3,1182.9 L1175.7,1183.0 L1176.1,1189.4 L1176.6,1198.3 L1177.0,1190.8 L1177.4,1185.8 L1177.8,1189.2 L1178.2,1182.3 L1178.7,1188.1 L1179.1,1187.5 L1179.5,1191.2 L1179.9,1195.5 L1180.4,1189.9 L1180.8,1198.9 L1181.2,1191.0 L1181.6,1192.5 L1182.1,1190.8 L1182.5,1187.6 L1182.9,1189.1 L1183.3,1190.1 L1183.8,1197.8 L1184.2,1191.4 L1184.6,1186.5 L1185.0,1193.4 L1185.5,1193.6 L1185.9,1188.2 L1186.3,1194.1 L1186.7,1193.4 L1187.2,1187.6 L1187.6,1196.4 L1188.0,1187.4 L1188.4,1189.6 L1188.9,1195.5 L1189.3,1187.0 L1189.7,1183.1 L1190.1,1190.8 L1190.6,1193.9 L1191.0,1193.5 L1191.4,1191.8 L1191.8,1188.4 L1192.3,1198.0 L1192.7,1197.4 L1193.1,1194.6 L1193.5,1195.9 L1194.0,1187.0 L1194.4,1196.8 L1194.8,1199.5 L1195.2,1197.5 L1195.6,1197.9 L1196.1,1195.4 L1196.5,1195.3 L1196.9,1186.2 L1197.3,1192.7 L1197.8,1195.7 L1198.2,1191.3 L1198.6,1189.2 L1199.0,1193.6 L1199.5,1191.7 L1199.9,1200.0 L1200.3,1194.0 L1200.7,1195.0 L1201.2,1200.8 L1201.6,1191.7 L1202.0,1197.0 L1202.4,1202.2 L1202.9,1193.0 L1203.3,1195.0 L1203.7,1200.7 L1204.1,1200.6 L1204.6,1195.3 L1205.0,1195.8 L1205.4,1196.0 L1205.8,1195.4 L1206.3,1201.5 L1206.7,1198.1 L1207.1,1196.8 L1207.5,1197.1 L1208.0,1203.6 L1208.4,1190.1 L1208.8,1199.4 L1209.2,1202.3 L1209.7,1199.1 L1210.1,1198.3 L1210.5,1204.2 L1210.9,1203.4 L1211.4,1210.1 L1211.8,1200.6 L1212.2,1204.7 L1212.6,1199.5 L1213.1,1208.0 L1213.5,1207.4 L1213.9,1206.1 L1214.3,1207.8 L1214.7,1206.7 L1215.2,1205.9 L1215.6,1204.3 L1216.0,1207.9 L1216.4,1206.6 L1216.9,1203.4 L1217.3,1204.6 L1217.7,1205.6 L1218.1,1210.6 L1218.6,1205.3 L1219.0,1204.8 L1219.4,1200.7 L1219.8,1208.5 L1220.3,1206.6 L1220.7,1206.4 L1221.1,1206.6 L1221.5,1208.1 L1222.0,1200.2 L1222.4,1203.0 L1222.8,1205.6 L1223.2,1209.7 L1223.7,1208.7 L1224.1,1210.6 L1224.5,1208.8 L1224.9,1210.0 L1225.4,1205.5 L1225.8,1206.4 L1226.2,1207.8 L1226.6,1208.0 L1227.1,1211.6 L1227.5,1209.5 L1227.9,1209.9 L1228.3,1209.8 L1228.8,1215.4 L1229.2,1208.8 L1229.6,1213.0 L1230.0,1208.9 L1230.5,1212.2 L1230.9,1212.3 L1231.3,1210.4 L1231.7,1207.5 L1232.1,1212.4 L1232.6,1211.9 L1233.0,1210.3 L1233.4,1210.7 L1233.8,1210.1 L1234.3,1219.6 L1234.7,1209.6 L1235.1,1205.6 L1235.5,1205.3 L1236.0,1213.7 L1236.4,1204.7 L1236.8,1213.2 L1237.2,1209.3 L1237.7,1211.8 L1238.1,1211.1 L1238.5,1214.3 L1238.9,1209.3 L1239.4,1210.7 L1239.8,1207.8 L1240.2,1203.3 L1240.6,1215.5 L1241.1,1205.9 L1241.5,1212.9 L1241.9,1214.4 L1242.3,1212.3 L1242.8,1207.6 L1243.2,1217.0 L1243.6,1206.7 L1244.0,1214.7 L1244.5,1215.6 L1244.9,1206.4 L1245.3,1213.8 L1245.7,1208.2 L1246.2,1213.3 L1246.6,1204.3 L1247.0,1218.2 L1247.4,1214.3 L1247.9,1212.1 L1248.3,1210.6 L1248.7,1217.4 L1249.1,1213.9 L1249.5,1213.7 L1250.0,1210.8 L1250.4,1211.2 L1250.8,1212.1 L1251.2,1209.5 L1251.7,1213.4 L1252.1,1219.2 L1252.5,1214.8 L1252.9,1216.0 L1253.4,1215.0 L1253.8,1221.9 L1254.2,1211.9 L1254.6,1207.2 L1255.1,1203.3 L1255.5,1212.6 L1255.9,1215.8 L1256.3,1218.9 L1256.8,1210.0 L1257.2,1213.6 L1257.6,1221.3 L1258.0,1210.3 L1258.5,1213.0 L1258.9,1215.4 L1259.3,1213.0 L1259.7,1216.9 L1260.2,1210.2 L1260.6,1214.7 L1261.0,1215.1 L1261.4,1221.0 L1261.9,1219.4 L1262.3,1219.7 L1262.7,1213.7 L1263.1,1222.2 L1263.6,1217.0 L1264.0,1222.4 L1264.4,1211.9 L1264.8,1213.5 L1265.3,1215.2 L1265.7,1222.8 L1266.1,1213.8 L1266.5,1217.5 L1266.9,1216.0 L1267.4,1221.0 L1267.8,1217.2 L1268.2,1223.8 L1268.6,1214.4 L1269.1,1225.7 L1269.5,1218.0 L1269.9,1213.6 L1270.3,1220.7 L1270.8,1217.8 L1271.2,1214.9 L1271.6,1223.1 L1272.0,1216.5 L1272.5,1214.1 L1272.9,1219.6 L1273.3,1221.4 L1273.7,1221.3 L1274.2,1213.5 L1274.6,1224.8 L1275.0,1220.0 L1275.4,1221.5 L1275.9,1215.5 L1276.3,1216.7 L1276.7,1217.9 L1277.1,1220.2 L1277.6,1228.2 L1278.0,1221.3 L1278.4,1221.3 L1278.8,1226.0 L1279.3,1226.9 L1279.7,1224.7 L1280.1,1220.0 L1280.5,1215.8 L1281.0,1213.7 L1281.4,1220.7 L1281.8,1219.6 L1282.2,1225.2 L1282.7,1229.4 L1283.1,1220.8 L1283.5,1221.8 L1283.9,1222.8 L1284.3,1216.0 L1284.8,1223.1 L1285.2,1226.5 L1285.6,1233.1 L1286.0,1218.4 L1286.5,1226.7 L1286.9,1229.5 L1287.3,1219.7 L1287.7,1223.1 L1288.2,1229.0 L1288.6,1221.8 L1289.0,1223.0 L1289.4,1225.3 L1289.9,1229.0 L1290.3,1226.1 L1290.7,1222.9 L1291.1,1227.1 L1291.6,1221.3 L1292.0,1220.0 L1292.4,1223.7 L1292.8,1224.3 L1293.3,1225.6 L1293.7,1226.0 L1294.1,1223.5 L1294.5,1218.7 L1295.0,1219.2 L1295.4,1224.5 L1295.8,1228.8 L1296.2,1222.9 L1296.7,1224.4 L1297.1,1228.9 L1297.5,1222.2 L1297.9,1229.6 L1298.4,1225.5 L1298.8,1225.5 L1299.2,1229.8 L1299.6,1225.5 L1300.1,1231.4 L1300.5,1224.2 L1300.9,1225.2 L1301.3,1226.6 L1301.7,1231.0 L1302.2,1225.1 L1302.6,1229.6 L1303.0,1230.1 L1303.4,1232.7 L1303.9,1226.7 L1304.3,1230.2 L1304.7,1232.0 L1305.1,1235.9 L1305.6,1228.9 L1306.0,1230.6 L1306.4,1229.6 L1306.8,1218.1 L1307.3,1229.4 L1307.7,1228.5 L1308.1,1224.8 L1308.5,1225.8 L1309.0,1228.2 L1309.4,1229.3 L1309.8,1228.7 L1310.2,1227.2 L1310.7,1229.2 L1311.1,1232.3 L1311.5,1228.6 L1311.9,1233.6 L1312.4,1234.7 L1312.8,1233.0 L1313.2,1227.7 L1313.6,1228.7 L1314.1,1220.0 L1314.5,1228.4 L1314.9,1227.9 L1315.3,1226.1 L1315.8,1220.9 L1316.2,1232.1 L1316.6,1233.0 L1317.0,1228.4 L1317.5,1232.3 L1317.9,1228.0 L1318.3,1222.2 L1318.7,1229.0 L1319.2,1227.7 L1319.6,1228.4 L1320.0,1229.0 L1320.4,1225.5 L1320.8,1223.7 L1321.3,1233.2 L1321.7,1230.0 L1322.1,1231.2 L1322.5,1225.7 L1323.0,1220.4 L1323.4,1224.5 L1323.8,1234.4 L1324.2,1231.9 L1324.7,1222.9 L1325.1,1227.6 L1325.5,1226.0 L1325.9,1230.6 L1326.4,1237.0 L1326.8,1228.7 L1327.2,1232.4 L1327.6,1230.6 L1328.1,1229.7 L1328.5,1227.9 L1328.9,1229.3 L1329.3,1233.8 L1329.8,1233.6 L1330.2,1234.7 L1330.6,1229.6 L1331.0,1230.1 L1331.5,1233.1 L1331.9,1232.2 L1332.3,1229.8 L1332.7,1231.3 L1333.2,1238.9 L1333.6,1232.9 L1334.0,1235.6 L1334.4,1237.1 L1334.9,1233.6 L1335.3,1240.5 L1335.7,1235.5 L1336.1,1237.5 L1336.6,1233.5 L1337.0,1237.6 L1337.4,1235.2 L1337.8,1237.7 L1338.2,1233.6 L1338.7,1233.8 L1339.1,1235.7 L1339.5,1238.7 L1339.9,1231.8 L1340.4,1236.7 L1340.8,1236.3 L1341.2,1240.4 L1341.6,1229.0 L1342.1,1231.8 L1342.5,1239.7 L1342.9,1238.3 L1343.3,1239.1 L1343.8,1237.5 L1344.2,1238.6 L1344.6,1239.2 L1345.0,1240.8 L1345.5,1233.5 L1345.9,1235.1 L1346.3,1241.8 L1346.7,1241.8 L1347.2,1234.9 L1347.6,1244.0 L1348.0,1240.1 L1348.4,1241.4 L1348.9,1237.6 L1349.3,1235.4 L1349.7,1238.4 L1350.1,1238.1 L1350.6,1234.5 L1351.0,1238.6 L1351.4,1238.3 L1351.8,1232.4 L1352.3,1235.2 L1352.7,1237.3 L1353.1,1235.0 L1353.5,1239.8 L1354.0,1241.3 L1354.4,1233.6 L1354.8,1237.7 L1355.2,1238.2 L1355.6,1239.6 L1356.1,1231.2 L1356.5,1232.8 L1356.9,1237.3 L1357.3,1239.8 L1357.8,1236.8 L1358.2,1232.7 L1358.6,1237.1 L1359.0,1232.8 L1359.5,1230.2 L1359.9,1235.6 L1360.3,1238.2 L1360.7,1238.5 L1361.2,1235.7 L1361.6,1232.4 L1362.0,1230.8 L1362.4,1237.0 L1362.9,1231.3 L1363.3,1235.6 L1363.7,1235.8 L1364.1,1232.2 L1364.6,1233.8 L1365.0,1234.2 L1365.4,1236.8 L1365.8,1232.1 L1366.3,1233.9 L1366.7,1235.0 L1367.1,1230.1 L1367.5,1232.5 L1368.0,1232.4 L1368.4,1234.7 L1368.8,1230.3 L1369.2,1233.9 L1369.7,1235.1 L1370.1,1238.9 L1370.5,1234.3 L1370.9,1239.5 L1371.4,1235.9 L1371.8,1236.9 L1372.2,1232.4 L1372.6,1233.0 L1373.0,1236.9 L1373.5,1233.5 L1373.9,1241.3 L1374.3,1236.8 L1374.7,1245.5 L1375.2,1235.1 L1375.6,1239.5 L1376.0,1239.5 L1376.4,1238.7 L1376.9,1239.9 L1377.3,1231.9 L1377.7,1239.5 L1378.1,1243.1 L1378.6,1239.7 L1379.0,1236.0 L1379.4,1239.3 L1379.8,1240.9 L1380.3,1244.0 L1380.7,1239.1 L1381.1,1245.1 L1381.5,1239.3 L1382.0,1245.0 L1382.4,1242.9 L1382.8,1249.9 L1383.2,1244.7 L1383.7,1246.8 L1384.1,1242.0 L1384.5,1236.9 L1384.9,1243.5 L1385.4,1243.9 L1385.8,1241.5 L1386.2,1243.9 L1386.6,1238.1 L1387.1,1243.4 L1387.5,1242.4 L1387.9,1249.1 L1388.3,1244.8 L1388.8,1244.9 L1389.2,1244.8 L1389.6,1238.6 L1390.0,1241.6 L1390.4,1248.8 L1390.9,1246.7 L1391.3,1240.4 L1391.7,1245.5 L1392.1,1243.4 L1392.6,1246.0 L1393.0,1244.9 L1393.4,1244.4 L1393.8,1240.1 L1394.3,1243.3 L1394.7,1241.6 L1395.1,1243.3 L1395.5,1247.0 L1396.0,1245.3 L1396.4,1245.8 L1396.8,1246.5 L1397.2,1240.2 L1397.7,1243.0 L1398.1,1247.1 L1398.5,1247.7 L1398.9,1236.7 L1399.4,1240.3 L1399.8,1244.9 L1400.2,1253.5 L1400.6,1241.4 L1401.1,1243.1 L1401.5,1244.3 L1401.9,1246.4 L1402.3,1239.1 L1402.8,1241.6 L1403.2,1242.1 L1403.6,1241.5 L1404.0,1241.9 L1404.5,1245.4 L1404.9,1247.9 L1405.3,1245.8 L1405.7,1244.7 L1406.2,1243.8 L1406.6,1241.8 L1407.0,1240.1 L1407.4,1240.2 L1407.8,1247.8 L1408.3,1248.2 L1408.7,1246.1 L1409.1,1245.4 L1409.5,1244.7 L1410.0,1246.1 L1410.4,1243.3 L1410.8,1241.8 L1411.2,1240.4 L1411.7,1245.4 L1412.1,1242.0 L1412.5,1239.2 L1412.9,1244.1 L1413.4,1243.0 L1413.8,1248.4 L1414.2,1250.8 L1414.6,1248.3 L1415.1,1249.5 L1415.5,1253.2 L1415.9,1243.2 L1416.3,1243.6 L1416.8,1247.8 L1417.2,1246.7 L1417.6,1248.9 L1418.0,1252.0 L1418.5,1248.4 L1418.9,1243.1 L1419.3,1257.7 L1419.7,1245.6 L1420.2,1244.9 L1420.6,1252.5 L1421.0,1243.6 L1421.4,1245.2 L1421.9,1249.0 L1422.3,1246.3 L1422.7,1249.3 L1423.1,1252.3 L1423.6,1248.9 L1424.0,1247.2 L1424.4,1250.1 L1424.8,1249.3 L1425.2,1257.3 L1425.7,1245.0 L1426.1,1252.0 L1426.5,1246.9 L1426.9,1249.0 L1427.4,1241.1 L1427.8,1243.8 L1428.2,1243.2 L1428.6,1241.5 L1429.1,1244.8 L1429.5,1251.2 L1429.9,1241.1 L1430.3,1249.2 L1430.8,1243.6 L1431.2,1241.8 L1431.6,1237.3 L1432.0,1238.0 L1432.5,1241.6 L1432.9,1241.0 L1433.3,1244.4 L1433.7,1245.3 L1434.2,1244.7 L1434.6,1243.1 L1435.0,1250.1 L1435.4,1249.0 L1435.9,1244.4 L1436.3,1250.4 L1436.7,1243.8 L1437.1,1246.8 L1437.6,1241.4 L1438.0,1240.4 L1438.4,1244.8 L1438.8,1251.8 L1439.3,1246.4 L1439.7,1248.9 L1440.1,1249.8 L1440.5,1244.2 L1441.0,1239.1 L1441.4,1237.5 L1441.9,1235.0 L1442.2,1236.7 L1442.7,1238.4 L1443.1,1245.8 L1443.5,1247.7 L1443.9,1246.6 L1444.3,1247.0 L1444.8,1248.7 L1445.2,1247.3 L1445.6,1248.4 L1446.0,1251.1 L1446.5,1246.1 L1446.9,1247.2 L1447.3,1247.9 L1447.7,1241.7 L1448.2,1253.2 L1448.6,1248.1 L1449.0,1254.1 L1449.4,1243.1 L1449.9,1242.9 L1450.3,1248.6 L1450.7,1250.1 L1451.1,1253.1 L1451.6,1252.8 L1452.0,1254.6 L1452.4,1250.7 L1452.8,1258.7 L1453.3,1253.5 L1453.7,1245.4 L1454.1,1248.6 L1454.5,1248.7 L1455.0,1251.1 L1455.4,1249.5 L1455.8,1252.6 L1456.2,1255.9 L1456.7,1247.3 L1457.1,1250.3 L1457.5,1258.0 L1457.9,1258.1 L1458.4,1258.5 L1458.8,1253.6 L1459.2,1256.9 L1459.6,1254.3 L1460.1,1247.8 L1460.5,1250.9 L1460.9,1255.3 L1461.3,1253.3 L1461.7,1250.1 L1462.2,1249.8 L1462.6,1254.2 L1463.0,1253.6 L1463.4,1251.1 L1463.9,1257.7 L1464.3,1251.2 L1464.7,1251.2 L1465.1,1252.7 L1465.6,1252.3 L1466.0,1252.1 L1466.4,1246.1 L1466.8,1260.0 L1467.3,1254.2 L1467.7,1253.4 L1468.1,1250.3 L1468.5,1251.7 L1469.0,1253.6 L1469.4,1250.0 L1469.8,1254.6 L1470.2,1254.1 L1470.7,1251.0 L1471.1,1249.7 L1471.5,1254.4 L1471.9,1259.4 L1472.4,1252.8 L1472.8,1255.2 L1473.2,1251.7 L1473.6,1249.6 L1474.1,1255.8 L1474.5,1251.3 L1474.9,1259.2 L1475.3,1250.3 L1475.8,1247.5 L1476.2,1253.4 L1476.6,1255.0 L1477.0,1255.2 L1477.5,1252.9 L1477.9,1248.8 L1478.3,1256.2 L1478.7,1249.5 L1479.1,1259.9 L1479.6,1251.1 L1480.0,1252.3 L1480.4,1252.1 L1480.8,1257.4 L1481.3,1259.2 L1481.7,1254.6 L1482.1,1254.8 L1482.5,1250.3 L1483.0,1256.4 L1483.4,1246.1 L1483.8,1257.0 L1484.2,1255.0 L1484.7,1251.0 L1485.1,1256.3 L1485.5,1256.2 L1485.9,1259.9 L1486.4,1259.3 L1486.8,1254.7 L1487.2,1255.7 L1487.6,1250.4 L1488.1,1257.0 L1488.5,1250.7 L1488.9,1252.8 L1489.3,1250.3 L1489.8,1253.1 L1490.2,1256.4 L1490.6,1252.3 L1491.0,1255.2 L1491.5,1251.3 L1491.9,1256.7 L1492.3,1258.1 L1492.7,1255.7 L1493.2,1255.4 L1493.6,1252.8 L1494.0,1257.8 L1494.4,1259.5 L1494.9,1255.3 L1495.3,1256.0 L1495.7,1254.7 L1496.1,1252.4 L1496.5,1256.0 L1497.0,1251.7 L1497.4,1260.1 L1497.8,1262.1 L1498.2,1259.6 L1498.7,1257.9 L1499.1,1256.5 L1499.5,1257.2 L1499.9,1253.2 L1500.4,1257.8 L1500.8,1257.3 L1501.2,1259.0 L1501.6,1262.5 L1502.1,1258.0 L1502.5,1262.1 L1502.9,1259.8 L1503.3,1255.2 L1503.8,1259.4 L1504.2,1257.6 L1504.6,1259.1 L1505.0,1259.1 L1505.5,1258.7 L1505.9,1257.1 L1506.3,1259.4 L1506.7,1256.8 L1507.2,1255.5 L1507.6,1257.6 L1508.0,1253.1 L1508.4,1259.4 L1508.9,1260.2 L1509.3,1257.2 L1509.7,1261.8 L1510.1,1260.3 L1510.6,1258.3 L1511.0,1259.5 L1511.4,1260.4 L1511.8,1256.3 L1512.3,1259.1 L1512.7,1259.7 L1513.1,1259.2 L1513.5,1256.4 L1513.9,1261.4 L1514.4,1251.2 L1514.8,1256.4 L1515.2,1257.6 L1515.6,1262.2 L1516.1,1252.9 L1516.5,1254.0 L1516.9,1253.9 L1517.3,1256.5 L1517.8,1254.9 L1518.2,1254.0 L1518.6,1259.9 L1519.0,1258.7 L1519.5,1257.0 L1519.9,1255.0 L1520.3,1256.2 L1520.7,1256.7 L1521.2,1263.5 L1521.6,1253.8 L1522.0,1255.6 L1522.4,1255.6 L1522.9,1256.6 L1523.3,1259.4 L1523.7,1253.0 L1524.1,1254.0 L1524.6,1260.6 L1525.0,1258.0 L1525.4,1261.8 L1525.8,1255.1 L1526.3,1252.7 L1526.7,1255.5 L1527.1,1255.2 L1527.5,1259.3 L1528.0,1254.9 L1528.4,1257.7 L1528.8,1259.7 L1529.2,1257.9 L1529.7,1256.5 L1530.1,1256.6 L1530.5,1258.3 L1530.9,1259.7 L1531.4,1254.6 L1531.8,1253.5 L1532.2,1262.3 L1532.6,1253.2 L1533.0,1256.8 L1533.5,1255.1 L1533.9,1261.6 L1534.3,1258.6 L1534.7,1261.9 L1535.2,1261.8 L1535.6,1255.9 L1536.0,1258.6 L1536.4,1253.1 L1536.9,1256.4 L1537.3,1260.3 L1537.7,1259.4 L1538.1,1259.3 L1538.6,1258.3 L1539.0,1256.8 L1539.4,1260.2 L1539.8,1258.7 L1540.3,1258.2 L1540.7,1261.3 L1541.1,1257.0 L1541.5,1263.8 L1542.0,1257.6 L1542.4,1263.3 L1542.8,1258.8 L1543.2,1256.8 L1543.7,1257.6 L1544.1,1260.4 L1544.5,1259.8 L1544.9,1260.2 L1545.4,1259.0 L1545.8,1257.6 L1546.2,1256.5 L1546.6,1256.1 L1547.1,1257.5 L1547.5,1252.5 L1547.9,1258.9 L1548.3,1258.4 L1548.8,1257.8 L1549.2,1255.6 L1549.6,1258.1 L1550.0,1260.1 L1550.4,1255.0 L1550.9,1255.1 L1551.3,1257.1 L1551.7,1258.8 L1552.1,1254.6 L1552.6,1260.2 L1553.0,1252.2 L1553.4,1263.1 L1553.8,1253.9 L1554.3,1254.8 L1554.7,1256.2 L1555.1,1253.9 L1555.5,1257.4 L1556.0,1255.9 L1556.4,1262.5 L1556.8,1258.1 L1557.2,1260.7 L1557.7,1258.4 L1558.1,1261.6 L1558.5,1259.4 L1558.9,1253.9 L1559.4,1257.0 L1559.8,1259.3 L1560.2,1259.4 L1560.6,1251.9 L1561.1,1255.2 L1561.5,1253.2 L1561.9,1253.4 L1562.3,1258.3 L1562.8,1258.3 L1563.2,1251.1 L1563.6,1254.2 L1564.0,1261.0 L1564.5,1261.5 L1564.9,1260.5 L1565.3,1254.6 L1565.7,1258.5 L1566.2,1261.3 L1566.6,1257.9 L1567.0,1256.9 L1567.4,1256.2 L1567.8,1259.1 L1568.3,1261.0 L1568.7,1263.6 L1569.1,1258.0 L1569.5,1258.6 L1570.0,1253.8 L1570.4,1261.8 L1570.8,1256.5 L1571.2,1262.7 L1571.7,1256.2 L1572.1,1258.2 L1572.5,1260.5 L1572.9,1259.3 L1573.4,1251.6 L1573.8,1257.9 L1574.2,1259.1 L1574.6,1266.0 L1575.1,1262.8 L1575.5,1263.6 L1575.9,1260.9 L1576.3,1263.5 L1576.8,1259.3 L1577.2,1255.1 L1577.6,1256.9 L1578.0,1260.3 L1578.5,1257.3 L1578.9,1258.8 L1579.3,1258.5 L1579.7,1263.3 L1580.2,1251.1 L1580.6,1255.1 L1581.0,1259.5 L1581.4,1258.2 L1581.9,1265.1 L1582.3,1261.9 L1582.7,1259.7 L1583.1,1257.3 L1583.6,1259.4 L1584.0,1258.5 L1584.4,1254.3 L1584.8,1256.1 L1585.2,1260.4 L1585.7,1259.7 L1586.1,1258.8 L1586.5,1263.6 L1586.9,1255.6 L1587.4,1257.3 L1587.8,1260.7 L1588.2,1261.7 L1588.6,1255.8 L1589.1,1258.9 L1589.5,1256.8 L1589.9,1254.8 L1590.3,1257.8 L1590.8,1255.3 L1591.2,1260.2 L1591.6,1258.4 L1592.0,1256.4 L1592.5,1260.6 L1592.9,1261.1 L1593.3,1254.6 L1593.7,1251.5 L1594.2,1254.0 L1594.6,1256.2 L1595.0,1248.4 L1595.4,1248.8 L1595.9,1258.5 L1596.3,1254.6 L1596.7,1255.9 L1597.1,1254.2 L1597.6,1252.2 L1598.0,1254.5 L1598.4,1252.5 L1598.8,1256.3 L1599.3,1252.7 L1599.7,1253.4 L1600.1,1251.7 L1600.5,1248.6 L1601.0,1250.0 L1601.4,1254.1 L1601.8,1249.1 L1602.2,1252.0 L1602.6,1250.3 L1603.1,1250.9 L1603.5,1256.2 L1603.9,1248.0 L1604.3,1248.9 L1604.8,1249.0 L1605.2,1255.7 L1605.6,1253.5 L1606.0,1247.1 L1606.5,1249.1 L1606.9,1251.0 L1607.3,1250.7 L1607.7,1249.8 L1608.2,1254.6 L1608.6,1249.0 L1609.0,1253.0 L1609.4,1251.8 L1609.9,1251.4 L1610.3,1246.2 L1610.7,1248.9 L1611.1,1255.9 L1611.6,1253.3 L1612.0,1247.2 L1612.4,1252.6 L1612.8,1246.5 L1613.3,1254.2 L1613.7,1249.5 L1614.1,1256.8 L1614.5,1255.5 L1615.0,1253.9 L1615.4,1247.9 L1615.8,1251.4 L1616.2,1248.0 L1616.7,1249.3 L1617.1,1248.2 L1617.5,1250.1 L1617.9,1252.4 L1618.4,1252.6 L1618.8,1243.4 L1619.2,1246.8 L1619.6,1246.0 L1620.0,1252.8 L1620.5,1246.2 L1620.9,1251.1 L1621.3,1249.6 L1621.7,1251.6 L1622.2,1247.9 L1622.6,1247.1 L1623.0,1251.2 L1623.4,1251.9 L1623.9,1247.9 L1624.3,1246.9 L1624.7,1246.3 L1625.1,1247.0 L1625.6,1250.6 L1626.0,1244.9 L1626.4,1251.2 L1626.8,1242.9 L1627.3,1247.4 L1627.7,1244.1 L1628.1,1247.6 L1628.5,1254.0 L1629.0,1243.9 L1629.4,1249.9 L1629.8,1241.5 L1630.2,1247.2 L1630.7,1253.3 L1631.1,1246.5 L1631.5,1240.0 L1631.9,1243.4 L1632.4,1245.4 L1632.8,1241.3 L1633.2,1249.9 L1633.6,1247.0 L1634.1,1241.9 L1634.5,1246.6 L1634.9,1245.1 L1635.3,1238.4 L1635.8,1249.3 L1636.2,1247.2 L1636.6,1237.0 L1637.0,1247.5 L1637.5,1243.0 L1637.9,1245.5 L1638.3,1242.6 L1638.7,1238.7 L1639.1,1242.9 L1639.6,1247.4 L1640.0,1236.2 L1640.4,1241.9 L1640.8,1239.8 L1641.3,1243.9 L1641.7,1237.5 L1642.1,1243.4 L1642.5,1240.7 L1643.0,1243.8 L1643.4,1241.6 L1643.8,1238.3 L1644.2,1241.4 L1644.7,1242.9 L1645.1,1242.2 L1645.5,1246.8 L1645.9,1240.6 L1646.4,1242.8 L1646.8,1244.5 L1647.2,1246.8 L1647.6,1240.0 L1648.1,1240.3 L1648.5,1240.9 L1648.9,1238.4 L1649.3,1237.5 L1649.8,1244.3 L1650.2,1243.2 L1650.6,1245.2 L1651.0,1246.0 L1651.5,1238.9 L1651.9,1240.5 L1652.3,1238.7 L1652.7,1240.3 L1653.2,1245.5 L1653.6,1236.4 L1654.0,1245.0 L1654.4,1238.2 L1654.9,1242.2 L1655.3,1247.1 L1655.7,1244.1 L1656.1,1235.4 L1656.5,1240.1 L1657.0,1243.8 L1657.4,1235.0 L1657.8,1234.7 L1658.2,1239.3 L1658.7,1234.4 L1659.1,1234.2 L1659.5,1238.0 L1659.9,1242.2 L1660.4,1239.2 L1660.8,1241.9 L1661.2,1239.3 L1661.6,1239.1 L1662.1,1240.9 L1662.5,1236.4 L1662.9,1237.5 L1663.3,1237.4 L1663.8,1237.0 L1664.2,1234.8 L1664.6,1237.1 L1665.0,1237.0 L1665.5,1241.7 L1665.9,1235.9 L1666.3,1241.1 L1666.7,1236.5 L1667.2,1244.5 L1667.6,1235.3 L1668.0,1228.6 L1668.4,1240.9 L1668.9,1240.3 L1669.3,1240.3 L1669.7,1243.9 L1670.1,1242.7 L1670.6,1237.3 L1671.0,1236.1 L1671.4,1239.5 L1671.8,1236.8 L1672.3,1237.3 L1672.7,1237.4 L1673.1,1242.4 L1673.5,1242.8 L1673.9,1239.4 L1674.4,1242.4 L1674.8,1236.7 L1675.2,1238.6 L1675.6,1241.4 L1676.1,1236.7 L1676.5,1243.5 L1676.9,1238.2 L1677.3,1239.0 L1677.8,1241.3 L1678.2,1233.7 L1678.6,1239.9 L1679.0,1237.1 L1679.5,1232.6 L1679.9,1237.2 L1680.3,1240.3 L1680.7,1231.0 L1681.2,1239.2 L1681.6,1231.0 L1682.0,1235.6 L1682.4,1237.2 L1682.9,1243.2 L1683.3,1238.7 L1683.7,1238.6 L1684.1,1240.2 L1684.6,1240.9 L1685.0,1238.3 L1685.4,1239.1 L1685.8,1239.9 L1686.3,1237.4 L1686.7,1242.3 L1687.1,1240.6 L1687.5,1242.0 L1688.0,1242.5 L1688.4,1237.0 L1688.8,1238.4 L1689.2,1240.8 L1689.7,1238.8 L1690.1,1239.1 L1690.5,1239.4 L1690.9,1239.9 L1691.3,1243.4 L1691.8,1233.8 L1692.2,1243.0 L1692.6,1237.5 L1693.0,1246.6 L1693.5,1242.6 L1693.9,1244.6 L1694.3,1243.8 L1694.7,1242.4 L1695.2,1240.3 L1695.6,1242.7 L1696.0,1246.2 L1696.4,1241.0 L1696.9,1241.8 L1697.3,1241.7 L1697.7,1243.9 L1698.1,1242.6 L1698.6,1246.7 L1699.0,1240.2 L1699.4,1240.7 L1699.8,1246.5 L1700.3,1247.5 L1700.7,1246.6 L1701.1,1250.6 L1701.5,1248.3 L1702.0,1242.7 L1702.4,1241.6 L1702.8,1243.9 L1703.2,1243.7 L1703.7,1246.2 L1704.1,1243.9 L1704.5,1244.0 L1704.9,1244.6 L1705.4,1246.0 L1705.8,1247.5 L1706.2,1246.6 L1706.6,1249.5 L1707.1,1247.2 L1707.5,1246.9 L1707.9,1249.8 L1708.3,1253.0 L1708.7,1245.7 L1709.2,1243.0 L1709.6,1242.1 L1710.0,1249.0 L1710.4,1240.7 L1710.9,1246.8 L1711.3,1250.1 L1711.7,1239.7 L1712.1,1247.0 L1712.6,1248.8 L1713.0,1247.6 L1713.4,1247.2 L1713.8,1240.1 L1714.3,1246.5 L1714.7,1241.9 L1715.1,1244.2 L1715.5,1247.0 L1716.0,1249.1 L1716.4,1248.0 L1716.8,1250.8 L1717.2,1243.6 L1717.7,1249.1 L1718.1,1247.2 L1718.5,1245.4 L1718.9,1246.2 L1719.4,1249.6 L1719.8,1250.9 L1720.2,1243.2 L1720.6,1252.4 L1721.1,1244.8 L1721.5,1247.8 L1721.9,1248.6 L1722.3,1246.8 L1722.8,1241.3 L1723.2,1246.6 L1723.6,1249.7 L1724.0,1247.0 L1724.5,1250.0 L1724.9,1248.4 L1725.3,1250.0 L1725.7,1251.1 L1726.1,1255.7 L1726.6,1250.7 L1727.0,1253.0 L1727.4,1248.3 L1727.8,1251.1 L1728.3,1245.5 L1728.7,1251.7 L1729.1,1252.5 L1729.5,1246.1 L1730.0,1252.1 L1730.4,1251.2 L1730.8,1253.1 L1731.2,1251.7 L1731.7,1250.3 L1732.1,1247.9 L1732.5,1251.0 L1732.9,1252.7 L1733.4,1248.5 L1733.8,1249.6 L1734.2,1245.3 L1734.6,1252.1 L1735.1,1254.4 L1735.5,1255.7 L1735.9,1247.5 L1736.3,1253.8 L1736.8,1249.8 L1737.2,1257.7 L1737.6,1250.4 L1738.0,1249.4 L1738.5,1257.0 L1738.9,1251.2 L1739.3,1253.4 L1739.7,1248.7 L1740.2,1260.1 L1740.6,1249.6 L1741.0,1251.3 L1741.4,1251.1 L1741.9,1254.0 L1742.3,1250.0 L1742.7,1253.5 L1743.1,1255.4 L1743.6,1261.3 L1744.0,1260.2 L1744.4,1252.7 L1744.8,1255.4 L1745.2,1253.4 L1745.7,1248.8 L1746.1,1251.5 L1746.5,1253.9 L1746.9,1253.1 L1747.4,1254.2 L1747.8,1257.5 L1748.2,1256.7 L1748.6,1255.7 L1749.1,1252.5 L1749.5,1254.3 L1749.9,1257.9 L1750.3,1256.5 L1750.8,1250.2 L1751.2,1256.3 L1751.6,1254.5 L1752.0,1253.7 L1752.5,1257.7 L1752.9,1254.9 L1753.3,1253.4 L1753.7,1255.9 L1754.2,1252.9 L1754.6,1255.5 L1755.0,1251.6 L1755.4,1257.6 L1755.9,1251.0 L1756.3,1255.9 L1756.7,1251.8 L1757.1,1258.1 L1757.6,1257.1 L1758.0,1253.5 L1758.4,1256.1 L1758.8,1258.0 L1759.3,1252.9 L1759.7,1254.3 L1760.1,1257.5 L1760.5,1249.9 L1761.0,1249.4 L1761.4,1256.4 L1761.8,1254.6 L1762.2,1250.7 L1762.6,1253.7 L1763.1,1257.9 L1763.5,1257.1 L1763.9,1252.5 L1764.3,1259.8 L1764.8,1257.8 L1765.2,1255.8 L1765.6,1259.6 L1766.0,1259.6 L1766.5,1256.4 L1766.9,1254.4 L1767.3,1260.2 L1767.7,1261.4 L1768.2,1258.3 L1768.6,1253.7 L1769.0,1255.5 L1769.4,1263.5 L1769.9,1255.1 L1770.3,1257.0 L1770.7,1258.0 L1771.1,1256.0 L1771.6,1259.7 L1772.0,1259.7 L1772.4,1256.1 L1772.8,1259.4 L1773.3,1259.7 L1773.7,1263.3 L1774.1,1264.3 L1774.5,1254.9 L1775.0,1257.6 L1775.4,1259.5 L1775.8,1261.4 L1776.2,1255.9 L1776.7,1253.3 L1777.1,1261.3 L1777.5,1256.6 L1777.9,1257.1 L1778.4,1257.6 L1778.8,1257.3 L1779.2,1261.9 L1779.6,1252.7 L1780.0,1262.0 L1780.5,1262.3 L1780.9,1259.5 L1781.3,1260.6 L1781.7,1255.8 L1782.2,1260.3 L1782.6,1259.3 L1783.0,1256.2 L1783.4,1258.8 L1783.9,1259.2 L1784.3,1261.1 L1784.7,1259.0 L1785.1,1257.2 L1785.6,1259.3 L1786.0,1257.2 L1786.4,1262.3 L1786.8,1261.6 L1787.3,1262.3 L1787.7,1265.5 L1788.1,1263.9 L1788.5,1260.7 L1789.0,1258.5 L1789.4,1261.2 L1789.8,1269.4 L1790.2,1261.0 L1790.7,1262.2 L1791.1,1259.9 L1791.5,1263.9 L1791.9,1262.0 L1792.4,1264.2 L1792.8,1261.7 L1793.2,1260.2 L1793.6,1267.6 L1794.1,1262.7 L1794.5,1262.5 L1794.9,1262.0 L1795.3,1259.4 L1795.8,1258.7 L1796.2,1263.2 L1796.6,1258.8 L1797.0,1258.3 L1797.4,1258.7 L1797.9,1260.9 L1798.3,1253.8 L1798.7,1261.9 L1799.1,1260.2 L1799.6,1266.7 L1800.0,1263.1 L1800.4,1256.8 L1800.8,1267.5 L1801.3,1262.1 L1801.7,1258.7 L1802.1,1263.9 L1802.5,1259.0 L1803.0,1265.8 L1803.4,1256.8 L1803.8,1258.6 L1804.2,1260.9 L1804.7,1263.1 L1805.1,1264.7 L1805.5,1260.0 L1805.9,1258.5 L1806.4,1259.1 L1806.8,1263.2 L1807.2,1264.7 L1807.6,1256.0 L1808.1,1262.9 L1808.5,1265.7 L1808.9,1262.5 L1809.3,1261.1 L1809.8,1264.2 L1810.2,1265.4 L1810.6,1263.1 L1811.0,1259.8 L1811.5,1265.0 L1811.9,1270.1 L1812.3,1266.1 L1812.7,1265.5 L1813.2,1260.2 L1813.6,1261.9 L1814.0,1265.1 L1814.4,1264.9 L1814.8,1263.4 L1815.3,1257.8 L1815.7,1262.8 L1816.1,1265.9 L1816.5,1272.2 L1817.0,1265.3 L1817.4,1264.8 L1817.8,1268.3 L1818.2,1263.8 L1818.7,1264.1 L1819.1,1266.1 L1819.5,1266.2 L1819.9,1266.8 L1820.4,1267.2 L1820.8,1265.8 L1821.2,1263.3 L1821.6,1264.1 L1822.1,1266.3 L1822.5,1263.5 L1822.9,1262.3 L1823.3,1265.5 L1823.8,1257.2 L1824.2,1267.0 L1824.6,1264.8 L1825.0,1262.8 L1825.5,1263.0 L1825.9,1263.0 L1826.3,1266.8 L1826.7,1262.5 L1827.2,1266.4 L1827.6,1265.0 L1828.0,1264.4 L1828.4,1266.3 L1828.9,1262.7 L1829.3,1272.5 L1829.7,1266.0 L1830.1,1263.8 L1830.6,1260.1 L1831.0,1263.3 L1831.4,1262.3 L1831.8,1262.4 L1832.2,1263.2 L1832.7,1269.6 L1833.1,1266.3 L1833.5,1267.2 L1833.9,1264.7 L1834.4,1260.8 L1834.8,1263.2 L1835.2,1261.3 L1835.6,1264.4 L1836.1,1264.7 L1836.5,1269.1 L1836.9,1260.5 L1837.3,1266.7 L1837.8,1263.1 L1838.2,1264.9 L1838.6,1261.1 L1839.0,1269.2 L1839.5,1264.6 L1839.9,1266.0 L1840.3,1269.3 L1840.7,1264.1 L1841.2,1263.5 L1841.6,1265.1 L1842.0,1262.6 L1842.4,1260.6 L1842.9,1266.2 L1843.3,1265.0 L1843.7,1260.7 L1844.1,1266.2 L1844.6,1261.8 L1845.0,1260.5 L1845.4,1263.5 L1845.8,1264.6 L1846.3,1263.4 L1846.7,1263.5 L1847.1,1267.1 L1847.5,1267.3 L1848.0,1264.9 L1848.4,1259.2 L1848.8,1263.2 L1849.2,1257.4 L1849.7,1259.7 L1850.1,1263.9 L1850.5,1266.3 L1850.9,1268.3 L1851.3,1265.8 L1851.8,1268.9 L1852.2,1269.0 L1852.6,1262.3 L1853.0,1263.6 L1853.5,1265.5 L1853.9,1262.0 L1854.3,1265.2 L1854.7,1263.3 L1855.2,1262.5 L1855.6,1265.2 L1856.0,1269.1 L1856.4,1261.1 L1856.9,1263.6 L1857.3,1264.6 L1857.7,1267.2 L1858.1,1265.2 L1858.6,1261.5 L1859.0,1267.5 L1859.4,1267.0 L1859.8,1267.6 L1860.3,1268.2 L1860.7,1267.0 L1861.1,1259.6 L1861.5,1262.3 L1862.0,1265.1 L1862.4,1266.4 L1862.8,1267.2 L1863.2,1267.7 L1863.7,1263.7 L1864.1,1266.8 L1864.5,1265.4 L1864.9,1267.5 L1865.4,1271.0 L1865.8,1264.2 L1866.2,1268.3 L1866.6,1265.0 L1867.1,1266.0 L1867.5,1264.6 L1867.9,1266.6 L1868.3,1267.8 L1868.7,1261.1 L1869.2,1271.4 L1869.6,1270.3 L1870.0,1271.9 L1870.4,1268.6 L1870.9,1269.4 L1871.3,1265.9 L1871.7,1268.5 L1872.1,1265.3 L1872.6,1271.4 L1873.0,1266.9 L1873.4,1269.9 L1873.8,1267.7 L1874.3,1270.6 L1874.7,1269.0 L1875.1,1263.9 L1875.5,1262.2 L1876.0,1266.2 L1876.4,1267.0 L1876.8,1264.0 L1877.2,1269.8 L1877.7,1270.2 L1878.1,1269.4 L1878.5,1269.3 L1878.9,1268.5 L1879.4,1265.6 L1879.8,1269.0 L1880.2,1262.7 L1880.6,1268.0 L1881.1,1269.7 L1881.5,1262.5 L1881.9,1272.6 L1882.3,1264.6 L1882.8,1270.1 L1883.2,1266.2 L1883.6,1267.3 L1884.0,1265.0 L1884.5,1266.9 L1884.9,1266.6 L1885.3,1265.0 L1885.7,1269.5 L1886.1,1268.2 L1886.6,1267.3 L1887.0,1263.3 L1887.4,1267.9 L1887.8,1269.8 L1888.3,1269.1 L1888.7,1269.2 L1889.1,1267.3 L1889.5,1267.5 L1890.0,1263.2 L1890.4,1267.4 L1890.8,1264.4 L1891.2,1262.2 L1891.7,1264.9 L1892.1,1263.3 L1892.5,1261.1 L1892.9,1255.1 L1893.5,1253.0 L1893.8,1255.3 L1894.2,1258.6 L1894.6,1261.6 L1895.1,1263.8 L1895.5,1262.9 L1895.9,1266.1 L1896.3,1259.5 L1896.8,1261.9 L1897.2,1260.9 L1897.6,1258.5 L1898.0,1266.5 L1898.5,1263.8 L1898.9,1264.8 L1899.3,1264.7 L1899.7,1263.0 L1900.2,1266.5 L1900.6,1262.6 L1901.0,1265.4 L1901.4,1263.8 L1901.9,1261.8 L1902.3,1265.6 L1902.7,1269.1"/>
</g>
<g font-size="81" text-anchor="middle">
<text x="204.9" y="1386.3">10</text>
<text x="417.2" y="1386.3">20</text>
<text x="629.5" y="1386.3">30</text>
<text x="841.8" y="1386.3">40</text>
<text x="1054.1" y="1386.3">50</text>
<text x="1266.4" y="1386.3">60</text>
<text x="1478.7" y="1386.3">70</text>
<text x="1691.0" y="1386.3">80</text>
<text x="1903.3" y="1386.3">90</text>
</g>
<text x="997" y="1496.7" font-size="104" text-anchor="middle">2 Theta(deg)</text>
<text transform="translate(155 722.5) rotate(-90)" font-size="103.7" text-anchor="middle">Intensity(a.u.)</text>
<g font-size="81">
<text transform="matrix(0.6468 0 0 0.6303 366.50 174.50)" class="sym" font-size="100">♦</text>
<text x="427" y="172.0" class="dash">–</text><text x="469" y="173.6"><tspan dy="0">SiO</tspan><tspan font-size="54" dy="20">2</tspan></text>
<text transform="matrix(0.5722 0 0 0.5932 708.75 175.60)" class="sym" font-size="100">♥</text>
<text x="766.5" y="172.0" class="dash">–</text><text x="808.2" y="173.6"><tspan dy="0">CeO</tspan><tspan font-size="54" dy="20">2</tspan></text>
<text transform="matrix(0.6978 0 0 0.5945 1078.52 173.70)" class="sym" font-size="100">♣</text>
<text x="1141.5" y="172.0" class="dash">–</text><text x="1183.7" y="173.6"><tspan dy="0">MnO</tspan><tspan font-size="54" dy="20">2</tspan></text>
<text transform="matrix(0.3843 0 0 0.3868 1475.49 159.06)" class="sym" font-size="100">●</text>
<text x="1513" y="169.4" class="dash">–</text><text x="1555.3" y="171.0"><tspan dy="0">Mn</tspan><tspan font-size="54" dy="20">2</tspan><tspan dy="-20">O</tspan><tspan font-size="54" dy="20">3</tspan></text>
<text x="641.4" y="345">(002)</text>
<text x="1031.4" y="711">(100)</text>
<text x="1497" y="863.8">Mn-Ce/AC</text>
<text x="1319" y="1168.8">CaO-Mn-Ce/AC</text>
</g>
<line x1="511.2" y1="419.4" x2="610.6" y2="339.0" stroke="#000" stroke-width="6.2"/><polygon points="638.6,316.4 610.1,352.7 597.1,336.6" fill="#000"/>
<line x1="904.7" y1="767.8" x2="996.4" y2="704.7" stroke="#000" stroke-width="6.2"/><polygon points="1026.1,684.3 994.9,718.3 983.2,701.3" fill="#000"/>
<text transform="matrix(0.6523 0 0 0.6414 533.41 259.80)" class="sym" font-size="100">♦</text>
<text transform="matrix(0.6541 0 0 0.6455 532.88 560.60)" class="sym" font-size="100">♦</text>
<text transform="matrix(0.5736 0 0 0.6164 726.04 745.60)" class="sym" font-size="100">♥</text>
<text transform="matrix(0.5667 0 0 0.6055 721.10 1060.50)" class="sym" font-size="100">♥</text>
<text transform="matrix(0.3791 0 0 0.3816 763.52 1071.42)" class="sym" font-size="100">●</text>
<text transform="matrix(0.6948 0 0 0.6205 1033.06 1139.80)" class="sym" font-size="100">♣</text>
<text transform="matrix(0.3791 0 0 0.3816 1424.22 1221.02)" class="sym" font-size="100">●</text>
</svg>
</body>
</html>
